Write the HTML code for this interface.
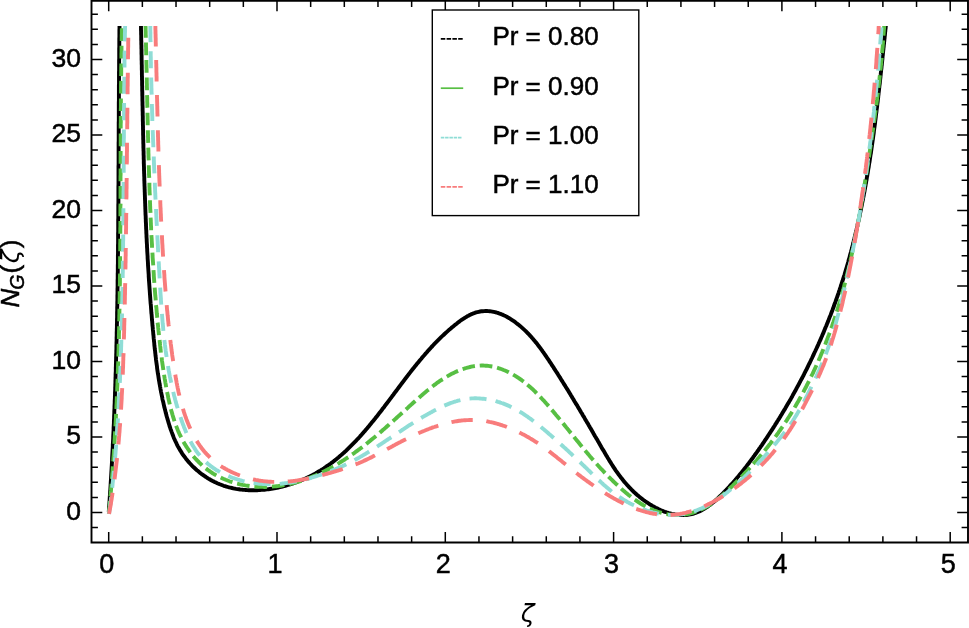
<!DOCTYPE html>
<html><head><meta charset="utf-8"><title>N_G plot</title>
<style>html,body{margin:0;padding:0;background:#fff;}body{width:969px;height:628px;overflow:hidden;position:relative;font-family:"Liberation Sans",sans-serif;}</style>
</head><body>
<svg width="969" height="628" viewBox="0 0 969 628" style="position:absolute;left:0;top:0">
<defs><clipPath id="cp"><rect x="91.5" y="26.0" width="876.5" height="516.5"/></clipPath></defs>
<g clip-path="url(#cp)" fill="none" stroke-linejoin="round">
<path d="M108.8,511.9 L108.9,510.2 L109.0,508.6 L109.1,506.9 L109.2,505.2 L109.4,503.5 L109.5,501.9 L109.6,500.2 L109.7,498.5 L109.8,496.8 L109.9,495.2 L110.0,493.5 L110.1,491.8 L110.3,490.1 L110.4,488.5 L110.5,486.8 L110.6,485.1 L110.7,483.4 L110.8,481.7 L110.9,480.1 L111.0,478.4 L111.1,476.7 L111.2,475.0 L111.3,473.4 L111.4,471.7 L111.5,470.0 L111.6,468.3 L111.7,466.7 L111.8,465.0 L111.9,463.3 L112.0,461.6 L112.1,460.0 L112.1,458.3 L112.2,456.6 L112.3,454.9 L112.4,453.2 L112.5,451.6 L112.6,449.9 L112.7,448.2 L112.8,446.5 L112.8,444.9 L112.9,443.2 L113.0,441.5 L113.1,439.8 L113.2,438.2 L113.2,436.5 L113.3,434.8 L113.4,433.1 L113.5,431.4 L113.6,429.8 L113.6,428.1 L113.7,426.4 L113.8,424.7 L113.9,423.1 L113.9,421.4 L114.0,419.7 L114.1,418.0 L114.1,416.3 L114.2,414.7 L114.3,413.0 L114.3,411.3 L114.4,409.6 L114.5,408.0 L114.5,406.3 L114.6,404.6 L114.7,402.9 L114.7,401.2 L114.8,399.6 L114.9,397.9 L114.9,396.2 L115.0,394.5 L115.0,392.9 L115.1,391.2 L115.2,389.5 L115.2,387.8 L115.3,386.1 L115.3,384.5 L115.4,382.8 L115.4,381.1 L115.5,379.4 L115.5,377.8 L115.6,376.1 L115.6,374.4 L115.7,372.7 L115.8,371.0 L115.8,369.4 L115.8,367.7 L115.9,366.0 L115.9,364.3 L116.0,362.7 L116.0,361.0 L116.1,359.3 L116.1,357.6 L116.2,355.9 L116.2,354.3 L116.3,352.6 L116.3,350.9 L116.4,349.2 L116.4,347.5 L116.4,345.9 L116.5,344.2 L116.5,342.5 L116.6,340.8 L116.6,339.2 L116.6,337.5 L116.7,335.8 L116.7,334.1 L116.7,332.4 L116.8,330.8 L116.8,329.1 L116.9,327.4 L116.9,325.7 L116.9,324.0 L117.0,322.4 L117.0,320.7 L117.0,319.0 L117.1,317.3 L117.1,315.6 L117.1,314.0 L117.1,312.3 L117.2,310.6 L117.2,308.9 L117.2,307.3 L117.3,305.6 L117.3,303.9 L117.3,302.2 L117.4,300.5 L117.4,298.9 L117.4,297.2 L117.4,295.5 L117.5,293.8 L117.5,292.1 L117.5,290.5 L117.5,288.8 L117.6,287.1 L117.6,285.4 L117.6,283.7 L117.6,282.1 L117.6,280.4 L117.7,278.7 L117.7,277.0 L117.7,275.3 L117.7,273.7 L117.8,272.0 L117.8,270.3 L117.8,268.6 L117.8,266.9 L117.8,265.3 L117.9,263.6 L117.9,261.9 L117.9,260.2 L117.9,258.6 L117.9,256.9 L117.9,255.2 L118.0,253.5 L118.0,251.8 L118.0,250.2 L118.0,248.5 L118.0,246.8 L118.0,245.1 L118.1,243.4 L118.1,241.8 L118.1,240.1 L118.1,238.4 L118.1,236.7 L118.1,235.0 L118.1,233.4 L118.2,231.7 L118.2,230.0 L118.2,228.3 L118.2,226.6 L118.2,225.0 L118.2,223.3 L118.2,221.6 L118.2,219.9 L118.3,218.2 L118.3,216.6 L118.3,214.9 L118.3,213.2 L118.3,211.5 L118.3,209.8 L118.3,208.2 L118.3,206.5 L118.3,204.8 L118.4,203.1 L118.4,201.4 L118.4,199.8 L118.4,198.1 L118.4,196.4 L118.4,194.7 L118.4,193.0 L118.4,191.4 L118.4,189.7 L118.4,188.0 L118.4,186.3 L118.5,184.6 L118.5,183.0 L118.5,181.3 L118.5,179.6 L118.5,177.9 L118.5,176.2 L118.5,174.6 L118.5,172.9 L118.5,171.2 L118.5,169.5 L118.5,167.9 L118.5,166.2 L118.6,164.5 L118.6,162.8 L118.6,161.1 L118.6,159.5 L118.6,157.8 L118.6,156.1 L118.6,154.4 L118.6,152.7 L118.6,151.1 L118.6,149.4 L118.6,147.7 L118.6,146.0 L118.6,144.3 L118.6,142.7 L118.7,141.0 L118.7,139.3 L118.7,137.6 L118.7,135.9 L118.7,134.3 L118.7,132.6 L118.7,130.9 L118.7,129.2 L118.7,127.5 L118.7,125.9 L118.7,124.2 L118.7,122.5 L118.8,120.8 L118.8,119.1 L118.8,117.5 L118.8,115.8 L118.8,114.1 L118.8,112.4 L118.8,110.7 L118.8,109.1 L118.8,107.4 L118.8,105.7 L118.8,104.0 L118.8,102.3 L118.9,100.7 L118.9,99.0 L118.9,97.3 L118.9,95.6 L118.9,94.0 L118.9,92.3 L118.9,90.6 L118.9,88.9 L118.9,87.2 L118.9,85.6 L119.0,83.9 L119.0,82.2 L119.0,80.5 L119.0,78.8 L119.0,77.2 L119.0,75.5 L119.0,73.8 L119.0,72.1 L119.1,70.4 L119.1,68.8 L119.1,67.1 L119.1,65.4 L119.1,63.7 L119.1,62.0 L119.1,60.4 L119.2,58.7 L119.2,57.0 L119.2,55.3 L119.2,53.7 L119.2,52.0 L119.2,50.3 L119.2,48.6 L119.3,46.9 L119.3,45.3 L119.3,43.6 L119.3,41.9 L119.3,40.2 L119.3,38.5 L119.4,36.9 L119.4,35.2 L119.4,33.5 L119.4,31.8 L119.4,30.1 L119.5,28.5 L119.5,26.8 L119.5,25.1 L119.5,23.4 L119.5,21.8 L119.6,20.1 L119.6,18.4 L119.6,16.7 L119.6,15.0 L119.7,13.4 L119.7,11.7 L119.7,10.0" stroke="#000000" stroke-width="3.9"/>
<path d="M141.0,26.0 L141.0,27.0 L141.0,28.4 L141.0,29.8 L141.1,31.3 L141.1,32.7 L141.1,34.1 L141.2,35.5 L141.2,36.9 L141.2,38.3 L141.2,39.8 L141.3,41.2 L141.3,42.6 L141.3,44.0 L141.4,45.4 L141.4,46.9 L141.4,48.3 L141.5,49.7 L141.5,51.1 L141.5,52.5 L141.5,53.9 L141.6,55.4 L141.6,56.8 L141.6,58.2 L141.6,59.6 L141.7,61.0 L141.7,62.4 L141.7,63.9 L141.8,65.3 L141.8,66.7 L141.8,68.1 L141.8,69.5 L141.9,70.9 L141.9,72.4 L141.9,73.8 L141.9,75.2 L142.0,76.6 L142.0,78.0 L142.0,79.5 L142.1,80.9 L142.1,82.3 L142.1,83.7 L142.1,85.1 L142.2,86.5 L142.2,88.0 L142.2,89.4 L142.2,90.8 L142.3,92.2 L142.3,93.6 L142.3,95.0 L142.4,96.5 L142.4,97.9 L142.4,99.3 L142.4,100.7 L142.5,102.1 L142.5,103.5 L142.5,105.0 L142.6,106.4 L142.6,107.8 L142.6,109.2 L142.6,110.6 L142.7,112.0 L142.7,113.5 L142.7,114.9 L142.8,116.3 L142.8,117.7 L142.8,119.1 L142.8,120.5 L142.9,122.0 L142.9,123.4 L142.9,124.8 L143.0,126.2 L143.0,127.6 L143.0,129.0 L143.1,130.5 L143.1,131.9 L143.1,133.3 L143.1,134.7 L143.2,136.1 L143.2,137.6 L143.2,139.0 L143.3,140.4 L143.3,141.8 L143.3,143.2 L143.4,144.6 L143.4,146.1 L143.4,147.5 L143.5,148.9 L143.5,150.3 L143.6,151.7 L143.6,153.1 L143.6,154.6 L143.7,156.0 L143.7,157.4 L143.7,158.8 L143.8,160.2 L143.8,161.6 L143.8,163.1 L143.9,164.5 L143.9,165.9 L144.0,167.3 L144.0,168.7 L144.0,170.1 L144.1,171.5 L144.1,173.0 L144.2,174.4 L144.2,175.8 L144.3,177.2 L144.3,178.6 L144.3,180.0 L144.4,181.5 L144.4,182.9 L144.5,184.3 L144.5,185.7 L144.6,187.1 L144.6,188.5 L144.7,190.0 L144.7,191.4 L144.8,192.8 L144.8,194.2 L144.9,195.6 L144.9,197.0 L145.0,198.5 L145.0,199.9 L145.1,201.3 L145.1,202.7 L145.2,204.1 L145.2,205.5 L145.3,207.0 L145.3,208.4 L145.4,209.8 L145.4,211.2 L145.5,212.6 L145.5,214.0 L145.6,215.4 L145.7,216.9 L145.7,218.3 L145.8,219.7 L145.8,221.1 L145.9,222.5 L146.0,223.9 L146.0,225.4 L146.1,226.8 L146.1,228.2 L146.2,229.6 L146.3,231.0 L146.3,232.4 L146.4,233.8 L146.5,235.3 L146.5,236.7 L146.6,238.1 L146.7,239.5 L146.7,240.9 L146.8,242.3 L146.9,243.8 L147.0,245.2 L147.0,246.6 L147.1,248.0 L147.2,249.4 L147.2,250.8 L147.3,252.2 L147.4,253.7 L147.5,255.1 L147.6,256.5 L147.6,257.9 L147.7,259.3 L147.8,260.7 L147.9,262.1 L148.0,263.6 L148.0,265.0 L148.1,266.4 L148.2,267.8 L148.3,269.2 L148.4,270.6 L148.5,272.1 L148.6,273.5 L148.7,274.9 L148.7,276.3 L148.8,277.7 L148.9,279.1 L149.0,280.5 L149.1,282.0 L149.2,283.4 L149.3,284.8 L149.4,286.2 L149.5,287.6 L149.6,289.0 L149.7,290.4 L149.8,291.9 L149.9,293.3 L150.0,294.7 L150.1,296.1 L150.2,297.5 L150.3,298.9 L150.4,300.3 L150.5,301.7 L150.6,303.2 L150.8,304.6 L150.9,306.0 L151.0,307.4 L151.1,308.8 L151.2,310.2 L151.3,311.6 L151.4,313.1 L151.6,314.5 L151.7,315.9 L151.8,317.3 L151.9,318.7 L152.0,320.1 L152.2,321.5 L152.3,323.0 L152.4,324.4 L152.5,325.8 L152.7,327.2 L152.8,328.6 L152.9,330.0 L153.1,331.4 L153.2,332.8 L153.3,334.3 L153.5,335.7 L153.6,337.1 L153.7,338.5 L153.9,339.9 L154.0,341.3 L154.2,342.7 L154.3,344.1 L154.4,345.6 L154.6,347.0 L154.7,348.4 L154.9,349.8 L155.1,351.2 L155.2,352.6 L155.4,354.0 L155.5,355.4 L155.7,356.8 L155.9,358.2 L156.0,359.7 L156.2,361.1 L156.4,362.5 L156.6,363.9 L156.8,365.3 L157.0,366.7 L157.1,368.1 L157.3,369.5 L157.5,370.9 L157.7,372.3 L157.9,373.7 L158.2,375.1 L158.4,376.5 L158.6,377.9 L158.8,379.3 L159.0,380.7 L159.3,382.1 L159.5,383.5 L159.8,384.9 L160.0,386.3 L160.3,387.7 L160.5,389.1 L160.8,390.5 L161.0,391.8 L161.3,393.2 L161.6,394.6 L161.9,396.0 L162.2,397.4 L162.4,398.8 L162.7,400.2 L163.1,401.5 L163.4,402.9 L163.7,404.3 L164.0,405.7 L164.3,407.1 L164.7,408.4 L165.0,409.8 L165.4,411.2 L165.7,412.6 L166.1,413.9 L166.4,415.3 L166.8,416.7 L167.2,418.0 L167.6,419.4 L168.0,420.8 L168.4,422.1 L168.8,423.5 L169.2,424.8 L169.6,426.2 L170.1,427.5 L170.5,428.9 L171.0,430.2 L171.5,431.6 L172.0,432.9 L172.5,434.2 L173.0,435.5 L173.5,436.9 L174.0,438.2 L174.6,439.5 L175.2,440.8 L175.8,442.0 L176.4,443.3 L177.0,444.6 L177.6,445.8 L178.3,447.1 L179.0,448.3 L179.7,449.5 L180.4,450.7 L181.2,451.9 L181.9,453.1 L182.7,454.3 L183.5,455.5 L184.4,456.6 L185.2,457.7 L186.1,458.9 L187.0,460.0 L187.9,461.1 L188.8,462.1 L189.8,463.2 L190.7,464.2 L191.7,465.3 L192.7,466.3 L193.7,467.3 L194.8,468.3 L195.8,469.2 L196.9,470.2 L198.0,471.1 L199.1,472.0 L200.2,472.9 L201.3,473.8 L202.5,474.6 L203.6,475.4 L204.8,476.3 L206.0,477.0 L207.2,477.8 L208.4,478.6 L209.6,479.3 L210.8,480.0 L212.1,480.7 L213.3,481.3 L214.6,482.0 L215.9,482.6 L217.2,483.2 L218.5,483.7 L219.8,484.3 L221.1,484.8 L222.4,485.3 L223.7,485.8 L225.1,486.2 L226.4,486.6 L227.8,487.0 L229.1,487.4 L230.5,487.7 L231.9,488.0 L233.2,488.3 L234.6,488.6 L236.0,488.9 L237.4,489.1 L238.8,489.3 L240.2,489.5 L241.6,489.6 L243.0,489.8 L244.4,489.9 L245.8,490.0 L247.2,490.1 L248.7,490.2 L250.1,490.2 L251.5,490.2 L252.9,490.2 L254.3,490.2 L255.8,490.2 L257.2,490.2 L258.6,490.1 L260.0,490.0 L261.4,489.9 L262.9,489.8 L264.3,489.7 L265.7,489.5 L267.1,489.4 L268.5,489.2 L269.9,489.0 L271.3,488.8 L272.8,488.5 L274.2,488.3 L275.6,488.0 L277.0,487.8 L278.4,487.5 L279.7,487.2 L281.1,486.8 L282.5,486.5 L283.9,486.2 L285.3,485.8 L286.7,485.4 L288.0,485.0 L289.4,484.6 L290.8,484.2 L292.1,483.7 L293.5,483.3 L294.8,482.8 L296.1,482.3 L297.5,481.8 L298.8,481.3 L300.1,480.8 L301.4,480.2 L302.8,479.7 L304.1,479.1 L305.4,478.5 L306.6,477.9 L307.9,477.3 L309.2,476.7 L310.5,476.1 L311.7,475.4 L313.0,474.8 L314.2,474.1 L315.5,473.4 L316.7,472.7 L317.9,472.0 L319.1,471.3 L320.3,470.6 L321.5,469.8 L322.7,469.1 L323.9,468.3 L325.0,467.5 L326.2,466.7 L327.3,465.9 L328.5,465.1 L329.6,464.3 L330.8,463.5 L331.9,462.6 L333.0,461.8 L334.1,460.9 L335.2,460.1 L336.3,459.2 L337.4,458.3 L338.5,457.4 L339.5,456.5 L340.6,455.6 L341.7,454.6 L342.7,453.7 L343.8,452.8 L344.8,451.8 L345.9,450.9 L346.9,449.9 L347.9,448.9 L348.9,447.9 L349.9,446.9 L350.9,445.9 L351.9,444.9 L352.9,443.9 L353.9,442.9 L354.9,441.9 L355.9,440.9 L356.9,439.8 L357.8,438.8 L358.8,437.8 L359.8,436.7 L360.7,435.6 L361.7,434.6 L362.6,433.5 L363.5,432.4 L364.5,431.4 L365.4,430.3 L366.3,429.2 L367.3,428.1 L368.2,427.0 L369.1,425.9 L370.0,424.8 L370.9,423.7 L371.8,422.6 L372.7,421.5 L373.6,420.4 L374.5,419.3 L375.4,418.2 L376.3,417.0 L377.2,415.9 L378.1,414.8 L378.9,413.7 L379.8,412.5 L380.7,411.4 L381.6,410.3 L382.4,409.1 L383.3,408.0 L384.2,406.9 L385.0,405.7 L385.9,404.6 L386.7,403.5 L387.6,402.3 L388.5,401.2 L389.3,400.1 L390.2,398.9 L391.0,397.8 L391.9,396.6 L392.7,395.5 L393.6,394.4 L394.4,393.2 L395.3,392.1 L396.1,391.0 L397.0,389.8 L397.8,388.7 L398.7,387.6 L399.5,386.4 L400.4,385.3 L401.2,384.2 L402.1,383.0 L402.9,381.9 L403.8,380.8 L404.6,379.7 L405.5,378.5 L406.3,377.4 L407.2,376.3 L408.0,375.2 L408.9,374.1 L409.8,372.9 L410.6,371.8 L411.5,370.7 L412.4,369.6 L413.2,368.5 L414.1,367.4 L415.0,366.3 L415.9,365.2 L416.8,364.1 L417.7,363.0 L418.6,361.9 L419.5,360.8 L420.4,359.7 L421.3,358.7 L422.2,357.6 L423.1,356.5 L424.0,355.5 L424.9,354.4 L425.8,353.3 L426.8,352.3 L427.7,351.2 L428.7,350.2 L429.6,349.1 L430.6,348.1 L431.5,347.0 L432.5,346.0 L433.4,345.0 L434.4,343.9 L435.4,342.9 L436.4,341.9 L437.4,340.9 L438.4,339.9 L439.4,338.9 L440.4,337.9 L441.4,336.9 L442.5,335.9 L443.5,335.0 L444.5,334.0 L445.6,333.0 L446.6,332.1 L447.7,331.1 L448.8,330.1 L449.9,329.2 L451.0,328.3 L452.1,327.3 L453.2,326.4 L454.3,325.5 L455.4,324.6 L456.6,323.7 L457.7,322.8 L458.9,321.9 L460.0,321.0 L461.2,320.2 L462.4,319.4 L463.6,318.6 L464.8,317.8 L466.0,317.1 L467.2,316.3 L468.4,315.7 L469.7,315.0 L470.9,314.4 L472.2,313.9 L473.5,313.3 L474.8,312.9 L476.1,312.4 L477.4,312.1 L478.7,311.8 L480.1,311.5 L481.4,311.3 L482.8,311.2 L484.1,311.1 L485.5,311.0 L486.9,311.0 L488.3,311.1 L489.6,311.2 L491.0,311.4 L492.3,311.6 L493.7,311.9 L495.0,312.2 L496.4,312.5 L497.7,312.9 L499.0,313.4 L500.3,313.8 L501.7,314.4 L503.0,314.9 L504.2,315.5 L505.5,316.1 L506.8,316.8 L508.0,317.5 L509.3,318.2 L510.5,319.0 L511.8,319.8 L513.0,320.6 L514.2,321.4 L515.4,322.3 L516.5,323.2 L517.7,324.1 L518.9,325.0 L520.0,325.9 L521.1,326.9 L522.2,327.9 L523.3,328.9 L524.4,329.9 L525.5,330.9 L526.5,331.9 L527.5,333.0 L528.6,334.0 L529.6,335.1 L530.5,336.2 L531.5,337.2 L532.4,338.3 L533.4,339.4 L534.3,340.5 L535.2,341.6 L536.1,342.6 L537.0,343.7 L537.8,344.8 L538.7,346.0 L539.5,347.1 L540.4,348.2 L541.2,349.3 L542.0,350.4 L542.8,351.6 L543.6,352.7 L544.4,353.8 L545.2,355.0 L546.0,356.1 L546.7,357.2 L547.5,358.4 L548.3,359.5 L549.1,360.7 L549.8,361.9 L550.6,363.0 L551.4,364.2 L552.1,365.4 L552.9,366.5 L553.7,367.7 L554.4,368.9 L555.2,370.1 L555.9,371.2 L556.7,372.4 L557.5,373.6 L558.2,374.8 L559.0,376.0 L559.7,377.2 L560.5,378.4 L561.2,379.6 L562.0,380.8 L562.7,382.0 L563.5,383.2 L564.2,384.4 L565.0,385.6 L565.7,386.8 L566.5,388.0 L567.2,389.2 L568.0,390.4 L568.7,391.7 L569.5,392.9 L570.2,394.1 L570.9,395.3 L571.7,396.5 L572.4,397.8 L573.2,399.0 L573.9,400.2 L574.6,401.4 L575.4,402.7 L576.1,403.9 L576.9,405.1 L577.6,406.3 L578.3,407.6 L579.1,408.8 L579.8,410.0 L580.5,411.3 L581.2,412.5 L582.0,413.7 L582.7,415.0 L583.4,416.2 L584.2,417.4 L584.9,418.7 L585.6,419.9 L586.3,421.1 L587.1,422.4 L587.8,423.6 L588.5,424.8 L589.2,426.1 L589.9,427.3 L590.7,428.5 L591.4,429.8 L592.1,431.0 L592.8,432.2 L593.5,433.5 L594.2,434.7 L594.9,435.9 L595.7,437.2 L596.4,438.4 L597.1,439.6 L597.8,440.8 L598.5,442.1 L599.2,443.3 L599.9,444.5 L600.6,445.7 L601.3,447.0 L602.0,448.2 L602.7,449.4 L603.5,450.6 L604.2,451.8 L604.9,453.0 L605.6,454.2 L606.3,455.4 L607.0,456.6 L607.7,457.8 L608.5,459.0 L609.2,460.2 L609.9,461.4 L610.7,462.6 L611.4,463.8 L612.2,465.0 L612.9,466.1 L613.7,467.3 L614.4,468.4 L615.2,469.6 L616.0,470.8 L616.8,471.9 L617.6,473.0 L618.4,474.2 L619.3,475.3 L620.1,476.4 L620.9,477.5 L621.8,478.6 L622.7,479.7 L623.5,480.8 L624.4,481.9 L625.4,483.0 L626.3,484.0 L627.2,485.1 L628.2,486.1 L629.1,487.2 L630.1,488.2 L631.1,489.2 L632.1,490.3 L633.2,491.3 L634.2,492.3 L635.3,493.2 L636.4,494.2 L637.5,495.2 L638.6,496.1 L639.7,497.1 L640.9,498.0 L642.1,498.9 L643.2,499.8 L644.4,500.7 L645.6,501.5 L646.9,502.4 L648.1,503.2 L649.3,504.0 L650.6,504.8 L651.9,505.5 L653.1,506.3 L654.4,507.0 L655.7,507.7 L657.0,508.3 L658.3,509.0 L659.6,509.6 L661.0,510.2 L662.3,510.7 L663.6,511.3 L665.0,511.8 L666.3,512.2 L667.6,512.7 L669.0,513.1 L670.3,513.4 L671.7,513.8 L673.0,514.1 L674.4,514.3 L675.7,514.6 L677.1,514.8 L678.4,514.9 L679.8,515.0 L681.1,515.1 L682.4,515.1 L683.8,515.1 L685.1,515.1 L686.4,515.0 L687.7,514.8 L689.0,514.6 L690.3,514.4 L691.6,514.1 L692.9,513.8 L694.2,513.4 L695.5,513.0 L696.7,512.5 L698.0,512.0 L699.2,511.5 L700.5,510.9 L701.7,510.2 L702.9,509.6 L704.1,508.9 L705.3,508.1 L706.5,507.4 L707.7,506.6 L708.8,505.7 L710.0,504.9 L711.2,504.0 L712.3,503.1 L713.4,502.2 L714.6,501.2 L715.7,500.2 L716.8,499.3 L717.9,498.3 L719.0,497.2 L720.0,496.2 L721.1,495.2 L722.2,494.1 L723.2,493.1 L724.3,492.0 L725.3,490.9 L726.3,489.9 L727.3,488.8 L728.4,487.7 L729.4,486.6 L730.3,485.5 L731.3,484.5 L732.3,483.4 L733.3,482.3 L734.2,481.2 L735.2,480.1 L736.1,479.0 L737.0,477.9 L738.0,476.8 L738.9,475.7 L739.8,474.6 L740.7,473.5 L741.6,472.4 L742.5,471.3 L743.4,470.2 L744.3,469.1 L745.1,468.0 L746.0,466.9 L746.9,465.7 L747.7,464.6 L748.6,463.5 L749.4,462.4 L750.3,461.2 L751.1,460.1 L751.9,459.0 L752.8,457.9 L753.6,456.7 L754.4,455.6 L755.2,454.4 L756.1,453.3 L756.9,452.2 L757.7,451.0 L758.5,449.9 L759.3,448.7 L760.1,447.6 L760.9,446.4 L761.7,445.3 L762.5,444.1 L763.3,442.9 L764.1,441.8 L764.8,440.6 L765.6,439.5 L766.4,438.3 L767.2,437.1 L768.0,435.9 L768.7,434.8 L769.5,433.6 L770.3,432.4 L771.1,431.2 L771.8,430.1 L772.6,428.9 L773.4,427.7 L774.1,426.5 L774.9,425.3 L775.6,424.1 L776.4,422.9 L777.1,421.7 L777.9,420.5 L778.6,419.3 L779.4,418.1 L780.1,416.9 L780.8,415.7 L781.6,414.5 L782.3,413.3 L783.0,412.1 L783.7,410.9 L784.5,409.7 L785.2,408.5 L785.9,407.2 L786.6,406.0 L787.3,404.8 L788.0,403.6 L788.8,402.4 L789.5,401.1 L790.2,399.9 L790.9,398.7 L791.6,397.4 L792.3,396.2 L792.9,395.0 L793.6,393.7 L794.3,392.5 L795.0,391.3 L795.7,390.0 L796.4,388.8 L797.0,387.5 L797.7,386.3 L798.4,385.0 L799.1,383.8 L799.7,382.5 L800.4,381.3 L801.0,380.0 L801.7,378.8 L802.4,377.5 L803.0,376.3 L803.7,375.0 L804.3,373.7 L804.9,372.5 L805.6,371.2 L806.2,369.9 L806.9,368.7 L807.5,367.4 L808.1,366.1 L808.7,364.8 L809.4,363.6 L810.0,362.3 L810.6,361.0 L811.2,359.7 L811.8,358.5 L812.4,357.2 L813.0,355.9 L813.6,354.6 L814.2,353.3 L814.8,352.0 L815.4,350.8 L816.0,349.5 L816.6,348.2 L817.2,346.9 L817.8,345.6 L818.4,344.3 L818.9,343.0 L819.5,341.7 L820.1,340.4 L820.7,339.1 L821.2,337.8 L821.8,336.5 L822.3,335.2 L822.9,333.9 L823.5,332.6 L824.0,331.3 L824.5,330.0 L825.1,328.6 L825.6,327.3 L826.2,326.0 L826.7,324.7 L827.2,323.4 L827.8,322.1 L828.3,320.8 L828.8,319.4 L829.3,318.1 L829.8,316.8 L830.4,315.5 L830.9,314.1 L831.4,312.8 L831.9,311.5 L832.4,310.2 L832.9,308.8 L833.4,307.5 L833.9,306.2 L834.3,304.8 L834.8,303.5 L835.3,302.2 L835.8,300.8 L836.3,299.5 L836.7,298.2 L837.2,296.8 L837.7,295.5 L838.1,294.2 L838.6,292.8 L839.0,291.5 L839.5,290.1 L839.9,288.8 L840.4,287.4 L840.8,286.1 L841.3,284.8 L841.7,283.4 L842.1,282.1 L842.6,280.7 L843.0,279.4 L843.4,278.0 L843.8,276.7 L844.3,275.3 L844.7,274.0 L845.1,272.6 L845.5,271.2 L845.9,269.9 L846.3,268.5 L846.7,267.2 L847.1,265.8 L847.5,264.5 L847.9,263.1 L848.3,261.7 L848.6,260.4 L849.0,259.0 L849.4,257.7 L849.8,256.3 L850.1,254.9 L850.5,253.6 L850.9,252.2 L851.2,250.8 L851.6,249.5 L852.0,248.1 L852.3,246.7 L852.7,245.3 L853.0,244.0 L853.4,242.6 L853.7,241.2 L854.0,239.9 L854.4,238.5 L854.7,237.1 L855.1,235.7 L855.4,234.4 L855.7,233.0 L856.0,231.6 L856.4,230.2 L856.7,228.8 L857.0,227.5 L857.3,226.1 L857.6,224.7 L857.9,223.3 L858.2,221.9 L858.6,220.6 L858.9,219.2 L859.2,217.8 L859.5,216.4 L859.8,215.0 L860.0,213.6 L860.3,212.3 L860.6,210.9 L860.9,209.5 L861.2,208.1 L861.5,206.7 L861.8,205.3 L862.0,203.9 L862.3,202.5 L862.6,201.1 L862.9,199.8 L863.1,198.4 L863.4,197.0 L863.7,195.6 L863.9,194.2 L864.2,192.8 L864.5,191.4 L864.7,190.0 L865.0,188.6 L865.2,187.2 L865.5,185.8 L865.7,184.4 L866.0,183.0 L866.2,181.6 L866.5,180.2 L866.7,178.8 L866.9,177.4 L867.2,176.0 L867.4,174.6 L867.7,173.2 L867.9,171.8 L868.1,170.4 L868.3,169.0 L868.6,167.6 L868.8,166.2 L869.0,164.8 L869.2,163.4 L869.5,162.0 L869.7,160.6 L869.9,159.2 L870.1,157.8 L870.3,156.4 L870.5,155.0 L870.8,153.6 L871.0,152.2 L871.2,150.8 L871.4,149.4 L871.6,148.0 L871.8,146.6 L872.0,145.2 L872.2,143.8 L872.4,142.4 L872.6,141.0 L872.8,139.6 L873.0,138.2 L873.2,136.7 L873.4,135.3 L873.6,133.9 L873.8,132.5 L873.9,131.1 L874.1,129.7 L874.3,128.3 L874.5,126.9 L874.7,125.5 L874.9,124.1 L875.1,122.7 L875.2,121.3 L875.4,119.9 L875.6,118.4 L875.8,117.0 L875.9,115.6 L876.1,114.2 L876.3,112.8 L876.5,111.4 L876.6,110.0 L876.8,108.6 L877.0,107.2 L877.2,105.8 L877.3,104.3 L877.5,102.9 L877.7,101.5 L877.8,100.1 L878.0,98.7 L878.2,97.3 L878.3,95.9 L878.5,94.5 L878.6,93.1 L878.8,91.7 L879.0,90.2 L879.1,88.8 L879.3,87.4 L879.4,86.0 L879.6,84.6 L879.8,83.2 L879.9,81.8 L880.1,80.4 L880.2,79.0 L880.4,77.6 L880.5,76.1 L880.7,74.7 L880.8,73.3 L881.0,71.9 L881.1,70.5 L881.3,69.1 L881.5,67.7 L881.6,66.3 L881.8,64.9 L881.9,63.5 L882.1,62.0 L882.2,60.6 L882.4,59.2 L882.5,57.8 L882.6,56.4 L882.8,55.0 L882.9,53.6 L883.1,52.2 L883.2,50.8 L883.4,49.4 L883.5,48.0 L883.7,46.6 L883.8,45.2 L884.0,43.8 L884.1,42.3 L884.3,40.9 L884.4,39.5 L884.6,38.1 L884.7,36.7 L884.9,35.3 L885.0,33.9 L885.1,32.5 L885.3,31.1 L885.4,29.7 L885.6,28.3 L885.7,26.9 L885.9,25.5 L886.0,24.1 L886.2,22.7 L886.3,21.3 L886.5,19.9 L886.6,18.5 L886.8,17.1 L886.9,15.7 L887.1,14.3 L887.2,12.9 L887.4,11.5 L887.5,10.1" stroke="#000000" stroke-width="3.9"/>
<path d="M109.0,511.9 L109.1,510.3 L109.3,508.6 L109.5,506.9 L109.6,505.2 L109.8,503.6 L109.9,501.9 L110.1,500.2 L110.2,498.6 L110.4,496.9 L110.5,495.2 L110.7,493.5 L110.8,491.9 L111.0,490.2 L111.1,488.5 L111.3,486.8 L111.4,485.2 L111.5,483.5 L111.7,481.8 L111.8,480.1 L111.9,478.5 L112.1,476.8 L112.2,475.1 L112.3,473.4 L112.5,471.8 L112.6,470.1 L112.7,468.4 L112.8,466.7 L112.9,465.1 L113.1,463.4 L113.2,461.7 L113.3,460.0 L113.4,458.4 L113.5,456.7 L113.7,455.0 L113.8,453.3 L113.9,451.7 L114.0,450.0 L114.1,448.3 L114.2,446.6 L114.3,445.0 L114.4,443.3 L114.5,441.6 L114.6,439.9 L114.7,438.3 L114.8,436.6 L114.9,434.9 L115.0,433.2 L115.1,431.5 L115.2,429.9 L115.3,428.2 L115.4,426.5 L115.5,424.8 L115.6,423.2 L115.7,421.5 L115.8,419.8 L115.9,418.1 L115.9,416.5 L116.0,414.8 L116.1,413.1 L116.2,411.4 L116.3,409.7 L116.4,408.1 L116.4,406.4 L116.5,404.7 L116.6,403.0 L116.7,401.4 L116.7,399.7 L116.8,398.0 L116.9,396.3 L117.0,394.6 L117.0,393.0 L117.1,391.3 L117.2,389.6 L117.2,387.9 L117.3,386.3 L117.4,384.6 L117.4,382.9 L117.5,381.2 L117.6,379.5 L117.6,377.9 L117.7,376.2 L117.8,374.5 L117.8,372.8 L117.9,371.2 L117.9,369.5 L118.0,367.8 L118.0,366.1 L118.1,364.4 L118.2,362.8 L118.2,361.1 L118.3,359.4 L118.3,357.7 L118.4,356.0 L118.4,354.4 L118.5,352.7 L118.5,351.0 L118.6,349.3 L118.6,347.7 L118.6,346.0 L118.7,344.3 L118.7,342.6 L118.8,340.9 L118.8,339.3 L118.9,337.6 L118.9,335.9 L118.9,334.2 L119.0,332.5 L119.0,330.9 L119.1,329.2 L119.1,327.5 L119.1,325.8 L119.2,324.1 L119.2,322.5 L119.2,320.8 L119.3,319.1 L119.3,317.4 L119.3,315.7 L119.4,314.1 L119.4,312.4 L119.4,310.7 L119.5,309.0 L119.5,307.3 L119.5,305.7 L119.6,304.0 L119.6,302.3 L119.6,300.6 L119.6,299.0 L119.7,297.3 L119.7,295.6 L119.7,293.9 L119.7,292.2 L119.8,290.6 L119.8,288.9 L119.8,287.2 L119.8,285.5 L119.9,283.8 L119.9,282.2 L119.9,280.5 L119.9,278.8 L119.9,277.1 L120.0,275.4 L120.0,273.8 L120.0,272.1 L120.0,270.4 L120.0,268.7 L120.1,267.0 L120.1,265.3 L120.1,263.7 L120.1,262.0 L120.1,260.3 L120.1,258.6 L120.1,256.9 L120.2,255.3 L120.2,253.6 L120.2,251.9 L120.2,250.2 L120.2,248.5 L120.2,246.9 L120.2,245.2 L120.2,243.5 L120.3,241.8 L120.3,240.1 L120.3,238.5 L120.3,236.8 L120.3,235.1 L120.3,233.4 L120.3,231.7 L120.3,230.1 L120.3,228.4 L120.4,226.7 L120.4,225.0 L120.4,223.3 L120.4,221.7 L120.4,220.0 L120.4,218.3 L120.4,216.6 L120.4,214.9 L120.4,213.3 L120.4,211.6 L120.4,209.9 L120.4,208.2 L120.4,206.5 L120.5,204.9 L120.5,203.2 L120.5,201.5 L120.5,199.8 L120.5,198.1 L120.5,196.5 L120.5,194.8 L120.5,193.1 L120.5,191.4 L120.5,189.7 L120.5,188.0 L120.5,186.4 L120.5,184.7 L120.5,183.0 L120.5,181.3 L120.5,179.6 L120.5,178.0 L120.5,176.3 L120.6,174.6 L120.6,172.9 L120.6,171.2 L120.6,169.6 L120.6,167.9 L120.6,166.2 L120.6,164.5 L120.6,162.8 L120.6,161.2 L120.6,159.5 L120.6,157.8 L120.6,156.1 L120.6,154.4 L120.6,152.8 L120.6,151.1 L120.6,149.4 L120.6,147.7 L120.7,146.0 L120.7,144.4 L120.7,142.7 L120.7,141.0 L120.7,139.3 L120.7,137.6 L120.7,136.0 L120.7,134.3 L120.7,132.6 L120.7,130.9 L120.7,129.2 L120.7,127.6 L120.7,125.9 L120.7,124.2 L120.8,122.5 L120.8,120.8 L120.8,119.2 L120.8,117.5 L120.8,115.8 L120.8,114.1 L120.8,112.4 L120.8,110.8 L120.8,109.1 L120.9,107.4 L120.9,105.7 L120.9,104.0 L120.9,102.4 L120.9,100.7 L120.9,99.0 L120.9,97.3 L120.9,95.6 L121.0,94.0 L121.0,92.3 L121.0,90.6 L121.0,88.9 L121.0,87.2 L121.0,85.6 L121.0,83.9 L121.1,82.2 L121.1,80.5 L121.1,78.8 L121.1,77.2 L121.1,75.5 L121.2,73.8 L121.2,72.1 L121.2,70.4 L121.2,68.8 L121.2,67.1 L121.3,65.4 L121.3,63.7 L121.3,62.0 L121.3,60.4 L121.4,58.7 L121.4,57.0 L121.4,55.3 L121.4,53.7 L121.5,52.0 L121.5,50.3 L121.5,48.6 L121.5,46.9 L121.6,45.3 L121.6,43.6 L121.6,41.9 L121.7,40.2 L121.7,38.5 L121.7,36.9 L121.7,35.2 L121.8,33.5 L121.8,31.8 L121.8,30.2 L121.9,28.5 L121.9,26.8 L122.0,25.1 L122.0,23.4 L122.0,21.8 L122.1,20.1 L122.1,18.4 L122.1,16.7 L122.2,15.0 L122.2,13.4 L122.3,11.7 L122.3,10.0" stroke="#57BF43" stroke-width="3.9" stroke-dasharray="8.765 8.765" stroke-linecap="square"/>
<path d="M145.5,26.0 L145.5,26.2 L145.6,27.5 L145.6,28.9 L145.6,30.2 L145.7,31.6 L145.7,32.9 L145.7,34.3 L145.8,35.6 L145.8,37.0 L145.8,38.3 L145.9,39.6 L145.9,41.0 L145.9,42.3 L146.0,43.7 L146.0,45.0 L146.0,46.4 L146.1,47.7 L146.1,49.1 L146.1,50.4 L146.2,51.8 L146.2,53.1 L146.2,54.5 L146.3,55.8 L146.3,57.2 L146.3,58.5 L146.3,59.9 L146.4,61.2 L146.4,62.6 L146.4,63.9 L146.5,65.3 L146.5,66.6 L146.5,68.0 L146.6,69.3 L146.6,70.7 L146.6,72.0 L146.6,73.4 L146.7,74.7 L146.7,76.1 L146.7,77.4 L146.8,78.8 L146.8,80.1 L146.8,81.4 L146.8,82.8 L146.9,84.1 L146.9,85.5 L146.9,86.8 L147.0,88.2 L147.0,89.5 L147.0,90.9 L147.0,92.2 L147.1,93.6 L147.1,94.9 L147.1,96.3 L147.2,97.6 L147.2,99.0 L147.2,100.3 L147.2,101.7 L147.3,103.0 L147.3,104.4 L147.3,105.7 L147.4,107.1 L147.4,108.4 L147.4,109.8 L147.4,111.1 L147.5,112.5 L147.5,113.8 L147.5,115.2 L147.6,116.5 L147.6,117.9 L147.6,119.2 L147.7,120.6 L147.7,121.9 L147.7,123.3 L147.7,124.6 L147.8,126.0 L147.8,127.3 L147.8,128.7 L147.9,130.0 L147.9,131.4 L147.9,132.7 L148.0,134.1 L148.0,135.4 L148.0,136.8 L148.1,138.1 L148.1,139.5 L148.1,140.8 L148.2,142.2 L148.2,143.5 L148.2,144.9 L148.3,146.2 L148.3,147.6 L148.3,148.9 L148.4,150.3 L148.4,151.6 L148.4,153.0 L148.5,154.3 L148.5,155.7 L148.5,157.0 L148.6,158.4 L148.6,159.7 L148.7,161.1 L148.7,162.4 L148.7,163.8 L148.8,165.1 L148.8,166.5 L148.8,167.8 L148.9,169.2 L148.9,170.5 L149.0,171.9 L149.0,173.2 L149.0,174.6 L149.1,175.9 L149.1,177.3 L149.2,178.6 L149.2,180.0 L149.3,181.3 L149.3,182.7 L149.4,184.0 L149.4,185.4 L149.4,186.7 L149.5,188.1 L149.5,189.4 L149.6,190.8 L149.6,192.1 L149.7,193.5 L149.7,194.8 L149.8,196.2 L149.8,197.5 L149.9,198.9 L149.9,200.2 L150.0,201.5 L150.0,202.9 L150.1,204.2 L150.1,205.6 L150.2,206.9 L150.2,208.3 L150.3,209.6 L150.4,211.0 L150.4,212.3 L150.5,213.7 L150.5,215.0 L150.6,216.4 L150.6,217.7 L150.7,219.1 L150.8,220.4 L150.8,221.8 L150.9,223.1 L150.9,224.5 L151.0,225.8 L151.1,227.2 L151.1,228.5 L151.2,229.9 L151.3,231.2 L151.3,232.6 L151.4,233.9 L151.5,235.3 L151.5,236.6 L151.6,237.9 L151.7,239.3 L151.7,240.6 L151.8,242.0 L151.9,243.3 L152.0,244.7 L152.0,246.0 L152.1,247.4 L152.2,248.7 L152.2,250.1 L152.3,251.4 L152.4,252.8 L152.5,254.1 L152.6,255.5 L152.6,256.8 L152.7,258.1 L152.8,259.5 L152.9,260.8 L153.0,262.2 L153.1,263.5 L153.1,264.9 L153.2,266.2 L153.3,267.6 L153.4,268.9 L153.5,270.3 L153.6,271.6 L153.7,273.0 L153.8,274.3 L153.8,275.6 L153.9,277.0 L154.0,278.3 L154.1,279.7 L154.2,281.0 L154.3,282.4 L154.4,283.7 L154.5,285.1 L154.6,286.4 L154.7,287.7 L154.8,289.1 L154.9,290.4 L155.0,291.8 L155.1,293.1 L155.2,294.5 L155.3,295.8 L155.5,297.2 L155.6,298.5 L155.7,299.8 L155.8,301.2 L155.9,302.5 L156.0,303.9 L156.1,305.2 L156.2,306.6 L156.4,307.9 L156.5,309.2 L156.6,310.6 L156.7,311.9 L156.8,313.3 L157.0,314.6 L157.1,316.0 L157.2,317.3 L157.3,318.6 L157.5,320.0 L157.6,321.3 L157.7,322.7 L157.8,324.0 L158.0,325.3 L158.1,326.7 L158.2,328.0 L158.4,329.4 L158.5,330.7 L158.7,332.1 L158.8,333.4 L158.9,334.7 L159.1,336.1 L159.2,337.4 L159.4,338.8 L159.5,340.1 L159.7,341.4 L159.8,342.8 L160.0,344.1 L160.1,345.5 L160.3,346.8 L160.4,348.1 L160.6,349.5 L160.7,350.8 L160.9,352.1 L161.1,353.5 L161.2,354.8 L161.4,356.2 L161.6,357.5 L161.8,358.8 L161.9,360.2 L162.1,361.5 L162.3,362.8 L162.5,364.2 L162.7,365.5 L162.9,366.8 L163.1,368.2 L163.3,369.5 L163.5,370.9 L163.7,372.2 L163.9,373.5 L164.1,374.9 L164.3,376.2 L164.5,377.5 L164.7,378.8 L165.0,380.2 L165.2,381.5 L165.4,382.8 L165.7,384.2 L165.9,385.5 L166.1,386.8 L166.4,388.2 L166.6,389.5 L166.9,390.8 L167.2,392.1 L167.4,393.5 L167.7,394.8 L168.0,396.1 L168.2,397.4 L168.5,398.8 L168.8,400.1 L169.1,401.4 L169.4,402.7 L169.7,404.1 L170.0,405.4 L170.3,406.7 L170.7,408.0 L171.0,409.3 L171.3,410.6 L171.7,411.9 L172.1,413.2 L172.4,414.5 L172.8,415.8 L173.2,417.1 L173.6,418.4 L174.0,419.7 L174.4,421.0 L174.8,422.3 L175.3,423.6 L175.7,424.8 L176.2,426.1 L176.7,427.4 L177.2,428.6 L177.7,429.9 L178.2,431.1 L178.8,432.4 L179.3,433.6 L179.9,434.8 L180.5,436.0 L181.1,437.3 L181.7,438.5 L182.3,439.7 L183.0,440.9 L183.6,442.0 L184.3,443.2 L185.0,444.4 L185.7,445.5 L186.4,446.7 L187.2,447.8 L187.9,448.9 L188.7,450.0 L189.4,451.1 L190.2,452.2 L191.1,453.3 L191.9,454.4 L192.7,455.4 L193.6,456.4 L194.4,457.5 L195.3,458.5 L196.2,459.5 L197.1,460.4 L198.1,461.4 L199.0,462.4 L200.0,463.3 L200.9,464.2 L201.9,465.1 L202.9,466.0 L203.9,466.9 L205.0,467.7 L206.0,468.6 L207.1,469.4 L208.1,470.2 L209.2,470.9 L210.3,471.7 L211.4,472.4 L212.5,473.2 L213.7,473.9 L214.8,474.5 L216.0,475.2 L217.2,475.8 L218.4,476.5 L219.6,477.1 L220.8,477.7 L222.0,478.2 L223.2,478.8 L224.5,479.3 L225.7,479.8 L227.0,480.3 L228.2,480.8 L229.5,481.3 L230.8,481.7 L232.1,482.1 L233.4,482.5 L234.7,482.9 L236.0,483.3 L237.3,483.6 L238.6,484.0 L240.0,484.3 L241.3,484.6 L242.6,484.9 L244.0,485.1 L245.3,485.4 L246.7,485.6 L248.0,485.8 L249.4,486.0 L250.7,486.2 L252.1,486.3 L253.4,486.5 L254.8,486.6 L256.1,486.7 L257.5,486.8 L258.9,486.8 L260.2,486.9 L261.6,486.9 L263.0,486.9 L264.3,487.0 L265.7,486.9 L267.0,486.9 L268.4,486.9 L269.7,486.8 L271.1,486.7 L272.4,486.6 L273.8,486.5 L275.1,486.4 L276.4,486.2 L277.8,486.1 L279.1,485.9 L280.4,485.7 L281.8,485.5 L283.1,485.3 L284.4,485.0 L285.7,484.8 L287.0,484.5 L288.4,484.3 L289.7,484.0 L291.0,483.7 L292.3,483.3 L293.6,483.0 L294.9,482.7 L296.2,482.3 L297.5,481.9 L298.7,481.6 L300.0,481.2 L301.3,480.8 L302.6,480.3 L303.9,479.9 L305.1,479.5 L306.4,479.0 L307.7,478.5 L308.9,478.1 L310.2,477.6 L311.4,477.1 L312.7,476.6 L313.9,476.0 L315.2,475.5 L316.4,475.0 L317.7,474.4 L318.9,473.9 L320.1,473.3 L321.3,472.7 L322.6,472.1 L323.8,471.5 L325.0,470.9 L326.2,470.3 L327.4,469.7 L328.6,469.0 L329.8,468.4 L331.0,467.7 L332.2,467.1 L333.3,466.4 L334.5,465.7 L335.7,465.0 L336.9,464.4 L338.0,463.7 L339.2,463.0 L340.3,462.2 L341.5,461.5 L342.6,460.8 L343.8,460.1 L344.9,459.3 L346.0,458.6 L347.2,457.9 L348.3,457.1 L349.4,456.3 L350.5,455.6 L351.6,454.8 L352.7,454.0 L353.8,453.3 L354.9,452.5 L356.0,451.7 L357.1,450.9 L358.2,450.1 L359.2,449.3 L360.3,448.5 L361.4,447.7 L362.4,446.9 L363.5,446.1 L364.6,445.2 L365.6,444.4 L366.7,443.6 L367.7,442.7 L368.7,441.9 L369.8,441.1 L370.8,440.2 L371.9,439.4 L372.9,438.5 L373.9,437.7 L375.0,436.8 L376.0,436.0 L377.0,435.1 L378.0,434.2 L379.0,433.4 L380.1,432.5 L381.1,431.6 L382.1,430.7 L383.1,429.8 L384.1,429.0 L385.1,428.1 L386.1,427.2 L387.1,426.3 L388.1,425.4 L389.1,424.5 L390.1,423.6 L391.1,422.7 L392.2,421.8 L393.2,420.9 L394.2,420.0 L395.2,419.1 L396.2,418.2 L397.2,417.3 L398.2,416.4 L399.2,415.5 L400.2,414.6 L401.2,413.7 L402.2,412.8 L403.2,411.9 L404.2,411.0 L405.2,410.1 L406.2,409.2 L407.2,408.3 L408.2,407.4 L409.2,406.4 L410.2,405.5 L411.2,404.6 L412.2,403.7 L413.2,402.8 L414.2,401.9 L415.3,401.0 L416.3,400.1 L417.3,399.2 L418.3,398.3 L419.3,397.4 L420.4,396.5 L421.4,395.6 L422.4,394.7 L423.5,393.8 L424.5,392.9 L425.6,392.0 L426.6,391.1 L427.7,390.3 L428.7,389.4 L429.8,388.5 L430.8,387.7 L431.9,386.8 L433.0,386.0 L434.1,385.2 L435.2,384.4 L436.3,383.5 L437.4,382.7 L438.5,382.0 L439.6,381.2 L440.7,380.4 L441.9,379.7 L443.0,378.9 L444.1,378.2 L445.3,377.5 L446.5,376.8 L447.6,376.1 L448.8,375.4 L450.0,374.8 L451.2,374.1 L452.4,373.5 L453.6,372.9 L454.9,372.3 L456.1,371.7 L457.3,371.2 L458.6,370.7 L459.8,370.2 L461.1,369.7 L462.3,369.2 L463.6,368.8 L464.9,368.4 L466.2,368.0 L467.5,367.6 L468.7,367.3 L470.0,367.0 L471.3,366.7 L472.6,366.4 L473.9,366.2 L475.2,366.0 L476.5,365.9 L477.8,365.7 L479.1,365.6 L480.4,365.6 L481.8,365.5 L483.1,365.5 L484.4,365.6 L485.7,365.7 L487.0,365.8 L488.3,365.9 L489.6,366.1 L490.9,366.3 L492.2,366.5 L493.5,366.8 L494.8,367.1 L496.0,367.4 L497.3,367.8 L498.6,368.2 L499.9,368.6 L501.1,369.0 L502.4,369.5 L503.6,370.0 L504.9,370.5 L506.1,371.0 L507.3,371.6 L508.6,372.2 L509.8,372.8 L511.0,373.4 L512.2,374.1 L513.3,374.7 L514.5,375.4 L515.7,376.1 L516.8,376.8 L518.0,377.6 L519.1,378.3 L520.2,379.1 L521.3,379.9 L522.4,380.7 L523.5,381.5 L524.5,382.3 L525.6,383.2 L526.7,384.0 L527.7,384.9 L528.7,385.8 L529.8,386.7 L530.8,387.6 L531.8,388.5 L532.8,389.4 L533.8,390.4 L534.8,391.3 L535.7,392.3 L536.7,393.3 L537.7,394.2 L538.6,395.2 L539.6,396.2 L540.5,397.2 L541.5,398.2 L542.4,399.2 L543.3,400.2 L544.3,401.2 L545.2,402.2 L546.1,403.3 L547.0,404.3 L547.9,405.3 L548.8,406.4 L549.7,407.4 L550.6,408.4 L551.5,409.5 L552.3,410.5 L553.2,411.5 L554.1,412.6 L555.0,413.6 L555.8,414.7 L556.7,415.7 L557.6,416.7 L558.4,417.8 L559.3,418.8 L560.2,419.9 L561.0,420.9 L561.9,422.0 L562.7,423.0 L563.6,424.1 L564.4,425.1 L565.3,426.1 L566.1,427.2 L567.0,428.2 L567.8,429.3 L568.7,430.3 L569.5,431.4 L570.4,432.4 L571.2,433.5 L572.0,434.5 L572.9,435.5 L573.7,436.6 L574.6,437.6 L575.4,438.7 L576.3,439.7 L577.1,440.7 L578.0,441.8 L578.8,442.8 L579.6,443.8 L580.5,444.9 L581.3,445.9 L582.2,446.9 L583.0,448.0 L583.9,449.0 L584.7,450.0 L585.6,451.1 L586.5,452.1 L587.3,453.1 L588.2,454.1 L589.0,455.1 L589.9,456.2 L590.8,457.2 L591.6,458.2 L592.5,459.2 L593.4,460.2 L594.3,461.2 L595.2,462.2 L596.0,463.2 L596.9,464.2 L597.8,465.2 L598.7,466.2 L599.6,467.2 L600.5,468.2 L601.4,469.2 L602.4,470.2 L603.3,471.1 L604.2,472.1 L605.1,473.1 L606.1,474.1 L607.0,475.0 L607.9,476.0 L608.9,477.0 L609.8,477.9 L610.8,478.9 L611.8,479.8 L612.7,480.8 L613.7,481.7 L614.7,482.6 L615.7,483.6 L616.7,484.5 L617.7,485.4 L618.7,486.4 L619.7,487.3 L620.7,488.2 L621.7,489.1 L622.7,490.0 L623.8,490.9 L624.8,491.8 L625.9,492.7 L626.9,493.6 L628.0,494.5 L629.1,495.3 L630.2,496.2 L631.3,497.0 L632.4,497.8 L633.5,498.7 L634.6,499.5 L635.7,500.3 L636.8,501.0 L638.0,501.8 L639.1,502.5 L640.3,503.3 L641.4,504.0 L642.6,504.7 L643.8,505.4 L645.0,506.0 L646.2,506.7 L647.4,507.3 L648.6,507.9 L649.8,508.5 L651.0,509.1 L652.3,509.6 L653.5,510.2 L654.8,510.7 L656.0,511.1 L657.3,511.6 L658.6,512.0 L659.9,512.4 L661.2,512.8 L662.5,513.1 L663.8,513.5 L665.1,513.7 L666.4,514.0 L667.7,514.3 L669.0,514.5 L670.4,514.6 L671.7,514.8 L673.0,514.9 L674.3,515.0 L675.6,515.0 L677.0,515.1 L678.3,515.1 L679.6,515.0 L680.9,514.9 L682.2,514.8 L683.5,514.7 L684.8,514.5 L686.1,514.3 L687.4,514.0 L688.7,513.8 L689.9,513.5 L691.2,513.1 L692.5,512.8 L693.7,512.4 L695.0,512.0 L696.2,511.5 L697.5,511.0 L698.7,510.5 L699.9,510.0 L701.2,509.5 L702.4,508.9 L703.6,508.3 L704.7,507.7 L705.9,507.0 L707.1,506.4 L708.3,505.7 L709.4,505.0 L710.5,504.2 L711.7,503.5 L712.8,502.7 L713.9,502.0 L715.0,501.2 L716.1,500.3 L717.2,499.5 L718.2,498.7 L719.3,497.8 L720.4,496.9 L721.4,496.1 L722.4,495.2 L723.5,494.3 L724.5,493.3 L725.5,492.4 L726.5,491.5 L727.5,490.6 L728.5,489.6 L729.5,488.7 L730.5,487.7 L731.5,486.8 L732.5,485.8 L733.5,484.8 L734.5,483.9 L735.4,482.9 L736.4,481.9 L737.4,481.0 L738.3,480.0 L739.3,479.0 L740.2,478.1 L741.2,477.1 L742.1,476.1 L743.1,475.1 L744.0,474.1 L744.9,473.2 L745.9,472.2 L746.8,471.2 L747.7,470.2 L748.6,469.2 L749.5,468.2 L750.4,467.2 L751.3,466.2 L752.2,465.2 L753.1,464.2 L754.0,463.2 L754.9,462.2 L755.8,461.2 L756.7,460.2 L757.6,459.1 L758.5,458.1 L759.3,457.1 L760.2,456.1 L761.0,455.1 L761.9,454.0 L762.8,453.0 L763.6,452.0 L764.5,450.9 L765.3,449.9 L766.1,448.8 L767.0,447.8 L767.8,446.7 L768.6,445.7 L769.5,444.6 L770.3,443.6 L771.1,442.5 L771.9,441.5 L772.7,440.4 L773.5,439.3 L774.3,438.2 L775.1,437.2 L775.9,436.1 L776.7,435.0 L777.5,433.9 L778.3,432.8 L779.0,431.7 L779.8,430.6 L780.6,429.5 L781.3,428.4 L782.1,427.3 L782.8,426.2 L783.6,425.1 L784.3,424.0 L785.1,422.8 L785.8,421.7 L786.6,420.6 L787.3,419.4 L788.0,418.3 L788.7,417.2 L789.5,416.0 L790.2,414.9 L790.9,413.7 L791.6,412.6 L792.3,411.4 L793.0,410.3 L793.7,409.1 L794.4,408.0 L795.1,406.8 L795.8,405.6 L796.4,404.5 L797.1,403.3 L797.8,402.1 L798.5,400.9 L799.1,399.8 L799.8,398.6 L800.4,397.4 L801.1,396.2 L801.8,395.0 L802.4,393.8 L803.0,392.6 L803.7,391.4 L804.3,390.2 L804.9,389.0 L805.6,387.8 L806.2,386.6 L806.8,385.4 L807.4,384.2 L808.0,383.0 L808.6,381.8 L809.2,380.6 L809.8,379.4 L810.4,378.2 L811.0,376.9 L811.6,375.7 L812.2,374.5 L812.8,373.3 L813.4,372.1 L813.9,370.8 L814.5,369.6 L815.1,368.4 L815.6,367.2 L816.2,365.9 L816.7,364.7 L817.3,363.5 L817.8,362.2 L818.4,361.0 L818.9,359.8 L819.4,358.5 L820.0,357.3 L820.5,356.0 L821.0,354.8 L821.5,353.6 L822.1,352.3 L822.6,351.1 L823.1,349.8 L823.6,348.6 L824.1,347.3 L824.6,346.1 L825.1,344.8 L825.6,343.6 L826.1,342.3 L826.5,341.0 L827.0,339.8 L827.5,338.5 L828.0,337.3 L828.4,336.0 L828.9,334.8 L829.4,333.5 L829.8,332.2 L830.3,331.0 L830.7,329.7 L831.2,328.4 L831.6,327.2 L832.1,325.9 L832.5,324.6 L833.0,323.3 L833.4,322.1 L833.8,320.8 L834.2,319.5 L834.7,318.2 L835.1,317.0 L835.5,315.7 L835.9,314.4 L836.3,313.1 L836.7,311.8 L837.1,310.6 L837.5,309.3 L837.9,308.0 L838.3,306.7 L838.7,305.4 L839.1,304.1 L839.5,302.8 L839.9,301.5 L840.2,300.2 L840.6,299.0 L841.0,297.7 L841.4,296.4 L841.7,295.1 L842.1,293.8 L842.4,292.5 L842.8,291.2 L843.2,289.9 L843.5,288.6 L843.9,287.3 L844.2,286.0 L844.5,284.7 L844.9,283.4 L845.2,282.1 L845.6,280.8 L845.9,279.4 L846.2,278.1 L846.5,276.8 L846.9,275.5 L847.2,274.2 L847.5,272.9 L847.8,271.6 L848.1,270.3 L848.5,269.0 L848.8,267.7 L849.1,266.3 L849.4,265.0 L849.7,263.7 L850.0,262.4 L850.3,261.1 L850.6,259.8 L850.9,258.4 L851.2,257.1 L851.4,255.8 L851.7,254.5 L852.0,253.2 L852.3,251.8 L852.6,250.5 L852.9,249.2 L853.1,247.9 L853.4,246.5 L853.7,245.2 L854.0,243.9 L854.2,242.6 L854.5,241.3 L854.8,239.9 L855.0,238.6 L855.3,237.3 L855.5,235.9 L855.8,234.6 L856.1,233.3 L856.3,232.0 L856.6,230.6 L856.8,229.3 L857.1,228.0 L857.3,226.6 L857.6,225.3 L857.8,224.0 L858.1,222.7 L858.3,221.3 L858.5,220.0 L858.8,218.7 L859.0,217.3 L859.3,216.0 L859.5,214.7 L859.7,213.3 L860.0,212.0 L860.2,210.7 L860.4,209.3 L860.7,208.0 L860.9,206.7 L861.1,205.3 L861.3,204.0 L861.6,202.7 L861.8,201.3 L862.0,200.0 L862.2,198.7 L862.5,197.3 L862.7,196.0 L862.9,194.7 L863.1,193.3 L863.4,192.0 L863.6,190.7 L863.8,189.3 L864.0,188.0 L864.2,186.7 L864.4,185.3 L864.7,184.0 L864.9,182.7 L865.1,181.3 L865.3,180.0 L865.5,178.7 L865.7,177.3 L865.9,176.0 L866.2,174.7 L866.4,173.3 L866.6,172.0 L866.8,170.7 L867.0,169.3 L867.2,168.0 L867.4,166.7 L867.6,165.3 L867.8,164.0 L868.0,162.7 L868.2,161.3 L868.4,160.0 L868.7,158.7 L868.9,157.3 L869.1,156.0 L869.3,154.7 L869.5,153.3 L869.7,152.0 L869.9,150.7 L870.1,149.3 L870.3,148.0 L870.5,146.7 L870.7,145.3 L870.9,144.0 L871.1,142.7 L871.3,141.3 L871.5,140.0 L871.7,138.7 L871.9,137.3 L872.1,136.0 L872.2,134.7 L872.4,133.3 L872.6,132.0 L872.8,130.7 L873.0,129.3 L873.2,128.0 L873.4,126.7 L873.6,125.3 L873.8,124.0 L874.0,122.7 L874.1,121.3 L874.3,120.0 L874.5,118.7 L874.7,117.3 L874.9,116.0 L875.0,114.7 L875.2,113.3 L875.4,112.0 L875.6,110.7 L875.8,109.3 L875.9,108.0 L876.1,106.7 L876.3,105.3 L876.5,104.0 L876.6,102.7 L876.8,101.3 L877.0,100.0 L877.1,98.7 L877.3,97.3 L877.5,96.0 L877.6,94.7 L877.8,93.3 L877.9,92.0 L878.1,90.7 L878.3,89.3 L878.4,88.0 L878.6,86.6 L878.7,85.3 L878.9,84.0 L879.0,82.6 L879.2,81.3 L879.4,80.0 L879.5,78.6 L879.6,77.3 L879.8,75.9 L879.9,74.6 L880.1,73.3 L880.2,71.9 L880.4,70.6 L880.5,69.2 L880.7,67.9 L880.8,66.6 L880.9,65.2 L881.1,63.9 L881.2,62.5 L881.3,61.2 L881.5,59.9 L881.6,58.5 L881.7,57.2 L881.8,55.8 L882.0,54.5 L882.1,53.1 L882.2,51.8 L882.3,50.4 L882.4,49.1 L882.6,47.8 L882.7,46.4 L882.8,45.1 L882.9,43.7 L883.0,42.4 L883.1,41.0 L883.2,39.7 L883.3,38.3 L883.4,37.0 L883.5,35.6 L883.6,34.3 L883.7,32.9 L883.8,31.6 L883.9,30.2 L884.0,28.9 L884.1,27.5 L884.2,26.2 L884.3,24.8 L884.4,23.5 L884.5,22.1 L884.5,20.8 L884.6,19.4 L884.7,18.1 L884.8,16.7 L884.9,15.4 L884.9,14.0 L885.0,12.6 L885.1,11.3 L885.1,9.9" stroke="#57BF43" stroke-width="3.9" stroke-dasharray="8.765 8.765" stroke-linecap="square" stroke-dashoffset="-1"/>
<path d="M109.3,512.0 L109.5,510.3 L109.7,508.7 L110.0,507.0 L110.2,505.3 L110.4,503.7 L110.6,502.0 L110.8,500.3 L111.0,498.6 L111.2,497.0 L111.3,495.3 L111.5,493.6 L111.7,492.0 L111.9,490.3 L112.1,488.6 L112.3,487.0 L112.5,485.3 L112.6,483.6 L112.8,481.9 L113.0,480.3 L113.1,478.6 L113.3,476.9 L113.5,475.3 L113.6,473.6 L113.8,471.9 L114.0,470.2 L114.1,468.6 L114.3,466.9 L114.4,465.2 L114.6,463.5 L114.7,461.9 L114.9,460.2 L115.0,458.5 L115.2,456.9 L115.3,455.2 L115.5,453.5 L115.6,451.8 L115.7,450.2 L115.9,448.5 L116.0,446.8 L116.1,445.1 L116.3,443.5 L116.4,441.8 L116.5,440.1 L116.6,438.4 L116.7,436.8 L116.9,435.1 L117.0,433.4 L117.1,431.7 L117.2,430.1 L117.3,428.4 L117.4,426.7 L117.5,425.0 L117.7,423.4 L117.8,421.7 L117.9,420.0 L118.0,418.3 L118.1,416.7 L118.2,415.0 L118.3,413.3 L118.4,411.6 L118.5,409.9 L118.6,408.3 L118.7,406.6 L118.7,404.9 L118.8,403.2 L118.9,401.6 L119.0,399.9 L119.1,398.2 L119.2,396.5 L119.3,394.9 L119.3,393.2 L119.4,391.5 L119.5,389.8 L119.6,388.1 L119.7,386.5 L119.7,384.8 L119.8,383.1 L119.9,381.4 L120.0,379.7 L120.0,378.1 L120.1,376.4 L120.2,374.7 L120.2,373.0 L120.3,371.4 L120.4,369.7 L120.4,368.0 L120.5,366.3 L120.5,364.6 L120.6,363.0 L120.7,361.3 L120.7,359.6 L120.8,357.9 L120.8,356.2 L120.9,354.6 L120.9,352.9 L121.0,351.2 L121.1,349.5 L121.1,347.8 L121.2,346.2 L121.2,344.5 L121.3,342.8 L121.3,341.1 L121.4,339.4 L121.4,337.8 L121.5,336.1 L121.5,334.4 L121.5,332.7 L121.6,331.0 L121.6,329.4 L121.7,327.7 L121.7,326.0 L121.8,324.3 L121.8,322.6 L121.8,321.0 L121.9,319.3 L121.9,317.6 L122.0,315.9 L122.0,314.2 L122.0,312.6 L122.1,310.9 L122.1,309.2 L122.1,307.5 L122.2,305.8 L122.2,304.1 L122.2,302.5 L122.3,300.8 L122.3,299.1 L122.3,297.4 L122.4,295.7 L122.4,294.1 L122.4,292.4 L122.5,290.7 L122.5,289.0 L122.5,287.3 L122.6,285.7 L122.6,284.0 L122.6,282.3 L122.6,280.6 L122.7,278.9 L122.7,277.3 L122.7,275.6 L122.7,273.9 L122.8,272.2 L122.8,270.5 L122.8,268.8 L122.8,267.2 L122.9,265.5 L122.9,263.8 L122.9,262.1 L122.9,260.4 L122.9,258.8 L123.0,257.1 L123.0,255.4 L123.0,253.7 L123.0,252.0 L123.0,250.4 L123.1,248.7 L123.1,247.0 L123.1,245.3 L123.1,243.6 L123.1,241.9 L123.2,240.3 L123.2,238.6 L123.2,236.9 L123.2,235.2 L123.2,233.5 L123.2,231.9 L123.2,230.2 L123.3,228.5 L123.3,226.8 L123.3,225.1 L123.3,223.4 L123.3,221.8 L123.3,220.1 L123.3,218.4 L123.4,216.7 L123.4,215.0 L123.4,213.4 L123.4,211.7 L123.4,210.0 L123.4,208.3 L123.4,206.6 L123.5,204.9 L123.5,203.3 L123.5,201.6 L123.5,199.9 L123.5,198.2 L123.5,196.5 L123.5,194.9 L123.5,193.2 L123.5,191.5 L123.6,189.8 L123.6,188.1 L123.6,186.5 L123.6,184.8 L123.6,183.1 L123.6,181.4 L123.6,179.7 L123.6,178.0 L123.6,176.4 L123.6,174.7 L123.7,173.0 L123.7,171.3 L123.7,169.6 L123.7,168.0 L123.7,166.3 L123.7,164.6 L123.7,162.9 L123.7,161.2 L123.7,159.5 L123.7,157.9 L123.7,156.2 L123.8,154.5 L123.8,152.8 L123.8,151.1 L123.8,149.5 L123.8,147.8 L123.8,146.1 L123.8,144.4 L123.8,142.7 L123.8,141.1 L123.8,139.4 L123.9,137.7 L123.9,136.0 L123.9,134.3 L123.9,132.6 L123.9,131.0 L123.9,129.3 L123.9,127.6 L123.9,125.9 L123.9,124.2 L124.0,122.6 L124.0,120.9 L124.0,119.2 L124.0,117.5 L124.0,115.8 L124.0,114.2 L124.0,112.5 L124.0,110.8 L124.0,109.1 L124.1,107.4 L124.1,105.8 L124.1,104.1 L124.1,102.4 L124.1,100.7 L124.1,99.0 L124.1,97.3 L124.2,95.7 L124.2,94.0 L124.2,92.3 L124.2,90.6 L124.2,88.9 L124.2,87.3 L124.3,85.6 L124.3,83.9 L124.3,82.2 L124.3,80.5 L124.3,78.9 L124.3,77.2 L124.4,75.5 L124.4,73.8 L124.4,72.1 L124.4,70.5 L124.4,68.8 L124.5,67.1 L124.5,65.4 L124.5,63.7 L124.5,62.1 L124.5,60.4 L124.6,58.7 L124.6,57.0 L124.6,55.3 L124.6,53.7 L124.7,52.0 L124.7,50.3 L124.7,48.6 L124.7,47.0 L124.8,45.3 L124.8,43.6 L124.8,41.9 L124.8,40.2 L124.9,38.6 L124.9,36.9 L124.9,35.2 L124.9,33.5 L125.0,31.8 L125.0,30.2 L125.0,28.5 L125.1,26.8 L125.1,25.1 L125.1,23.4 L125.2,21.8 L125.2,20.1 L125.2,18.4 L125.3,16.7 L125.3,15.1 L125.3,13.4 L125.4,11.7 L125.4,10.0" stroke="#8FDDD6" stroke-width="3.9" stroke-dasharray="13.148 13.148" stroke-linecap="square"/>
<path d="M150.3,26.0 L150.3,27.1 L150.3,28.4 L150.3,29.7 L150.3,31.0 L150.4,32.4 L150.4,33.7 L150.4,35.0 L150.4,36.3 L150.4,37.6 L150.4,38.9 L150.5,40.3 L150.5,41.6 L150.5,42.9 L150.5,44.2 L150.5,45.5 L150.6,46.8 L150.6,48.2 L150.6,49.5 L150.6,50.8 L150.7,52.1 L150.7,53.4 L150.7,54.7 L150.7,56.0 L150.8,57.4 L150.8,58.7 L150.8,60.0 L150.8,61.3 L150.9,62.6 L150.9,63.9 L150.9,65.2 L150.9,66.6 L151.0,67.9 L151.0,69.2 L151.0,70.5 L151.1,71.8 L151.1,73.1 L151.1,74.4 L151.1,75.7 L151.2,77.1 L151.2,78.4 L151.2,79.7 L151.3,81.0 L151.3,82.3 L151.3,83.6 L151.4,84.9 L151.4,86.2 L151.4,87.5 L151.5,88.9 L151.5,90.2 L151.5,91.5 L151.6,92.8 L151.6,94.1 L151.6,95.4 L151.7,96.7 L151.7,98.0 L151.8,99.3 L151.8,100.7 L151.8,102.0 L151.9,103.3 L151.9,104.6 L151.9,105.9 L152.0,107.2 L152.0,108.5 L152.1,109.8 L152.1,111.1 L152.1,112.5 L152.2,113.8 L152.2,115.1 L152.3,116.4 L152.3,117.7 L152.3,119.0 L152.4,120.3 L152.4,121.6 L152.5,122.9 L152.5,124.2 L152.6,125.5 L152.6,126.9 L152.7,128.2 L152.7,129.5 L152.7,130.8 L152.8,132.1 L152.8,133.4 L152.9,134.7 L152.9,136.0 L153.0,137.3 L153.0,138.6 L153.1,140.0 L153.1,141.3 L153.2,142.6 L153.2,143.9 L153.3,145.2 L153.3,146.5 L153.4,147.8 L153.4,149.1 L153.5,150.4 L153.5,151.7 L153.6,153.0 L153.6,154.3 L153.7,155.7 L153.7,157.0 L153.8,158.3 L153.8,159.6 L153.9,160.9 L153.9,162.2 L154.0,163.5 L154.0,164.8 L154.1,166.1 L154.1,167.4 L154.2,168.7 L154.2,170.1 L154.3,171.4 L154.4,172.7 L154.4,174.0 L154.5,175.3 L154.5,176.6 L154.6,177.9 L154.6,179.2 L154.7,180.5 L154.7,181.8 L154.8,183.1 L154.9,184.5 L154.9,185.8 L155.0,187.1 L155.0,188.4 L155.1,189.7 L155.1,191.0 L155.2,192.3 L155.3,193.6 L155.3,194.9 L155.4,196.2 L155.4,197.5 L155.5,198.9 L155.6,200.2 L155.6,201.5 L155.7,202.8 L155.8,204.1 L155.8,205.4 L155.9,206.7 L155.9,208.0 L156.0,209.3 L156.1,210.6 L156.1,212.0 L156.2,213.3 L156.3,214.6 L156.3,215.9 L156.4,217.2 L156.4,218.5 L156.5,219.8 L156.6,221.1 L156.6,222.4 L156.7,223.7 L156.8,225.1 L156.8,226.4 L156.9,227.7 L157.0,229.0 L157.0,230.3 L157.1,231.6 L157.2,232.9 L157.2,234.2 L157.3,235.5 L157.4,236.9 L157.4,238.2 L157.5,239.5 L157.6,240.8 L157.7,242.1 L157.7,243.4 L157.8,244.7 L157.9,246.0 L157.9,247.3 L158.0,248.7 L158.1,250.0 L158.1,251.3 L158.2,252.6 L158.3,253.9 L158.4,255.2 L158.4,256.5 L158.5,257.8 L158.6,259.2 L158.6,260.5 L158.7,261.8 L158.8,263.1 L158.9,264.4 L158.9,265.7 L159.0,267.0 L159.1,268.4 L159.2,269.7 L159.2,271.0 L159.3,272.3 L159.4,273.6 L159.4,274.9 L159.5,276.2 L159.6,277.6 L159.7,278.9 L159.7,280.2 L159.8,281.5 L159.9,282.8 L160.0,284.1 L160.1,285.4 L160.1,286.8 L160.2,288.1 L160.3,289.4 L160.4,290.7 L160.4,292.0 L160.5,293.3 L160.6,294.7 L160.7,296.0 L160.8,297.3 L160.9,298.6 L160.9,299.9 L161.0,301.2 L161.1,302.5 L161.2,303.9 L161.3,305.2 L161.4,306.5 L161.5,307.8 L161.6,309.1 L161.7,310.4 L161.8,311.7 L161.9,313.1 L162.0,314.4 L162.1,315.7 L162.2,317.0 L162.3,318.3 L162.4,319.6 L162.5,320.9 L162.6,322.3 L162.7,323.6 L162.9,324.9 L163.0,326.2 L163.1,327.5 L163.2,328.8 L163.3,330.1 L163.5,331.4 L163.6,332.7 L163.7,334.0 L163.9,335.3 L164.0,336.7 L164.2,338.0 L164.3,339.3 L164.4,340.6 L164.6,341.9 L164.8,343.2 L164.9,344.5 L165.1,345.8 L165.2,347.1 L165.4,348.4 L165.6,349.7 L165.7,351.0 L165.9,352.3 L166.1,353.6 L166.3,354.9 L166.5,356.2 L166.6,357.5 L166.8,358.8 L167.0,360.1 L167.2,361.4 L167.4,362.7 L167.6,364.0 L167.9,365.3 L168.1,366.6 L168.3,367.8 L168.5,369.1 L168.7,370.4 L169.0,371.7 L169.2,373.0 L169.4,374.3 L169.7,375.6 L169.9,376.9 L170.2,378.1 L170.5,379.4 L170.7,380.7 L171.0,382.0 L171.3,383.3 L171.5,384.6 L171.8,385.8 L172.1,387.1 L172.4,388.4 L172.7,389.7 L173.0,390.9 L173.3,392.2 L173.6,393.5 L173.9,394.8 L174.2,396.0 L174.6,397.3 L174.9,398.6 L175.2,399.8 L175.6,401.1 L175.9,402.4 L176.3,403.6 L176.6,404.9 L177.0,406.1 L177.4,407.4 L177.8,408.7 L178.1,409.9 L178.5,411.2 L178.9,412.4 L179.3,413.7 L179.7,414.9 L180.1,416.2 L180.6,417.4 L181.0,418.7 L181.4,419.9 L181.8,421.2 L182.3,422.4 L182.7,423.7 L183.2,424.9 L183.7,426.1 L184.1,427.4 L184.6,428.6 L185.1,429.8 L185.6,431.0 L186.1,432.2 L186.7,433.4 L187.2,434.6 L187.7,435.8 L188.3,437.0 L188.9,438.2 L189.4,439.4 L190.0,440.5 L190.6,441.7 L191.3,442.8 L191.9,444.0 L192.5,445.1 L193.2,446.2 L193.9,447.3 L194.6,448.4 L195.3,449.5 L196.0,450.6 L196.7,451.6 L197.5,452.7 L198.3,453.7 L199.1,454.7 L199.9,455.7 L200.7,456.7 L201.5,457.7 L202.4,458.6 L203.3,459.6 L204.2,460.5 L205.1,461.4 L206.1,462.3 L207.1,463.1 L208.1,464.0 L209.1,464.8 L210.1,465.6 L211.1,466.4 L212.2,467.2 L213.3,468.0 L214.4,468.7 L215.5,469.5 L216.7,470.2 L217.8,470.8 L219.0,471.5 L220.1,472.2 L221.3,472.8 L222.5,473.4 L223.7,474.0 L225.0,474.6 L226.2,475.2 L227.4,475.7 L228.6,476.2 L229.9,476.7 L231.1,477.2 L232.4,477.7 L233.6,478.2 L234.9,478.6 L236.2,479.0 L237.4,479.4 L238.7,479.8 L240.0,480.2 L241.2,480.5 L242.5,480.9 L243.8,481.2 L245.0,481.5 L246.3,481.8 L247.6,482.0 L248.9,482.3 L250.2,482.5 L251.4,482.7 L252.7,482.9 L254.0,483.1 L255.3,483.3 L256.6,483.4 L257.9,483.6 L259.2,483.7 L260.5,483.8 L261.7,483.9 L263.0,484.0 L264.3,484.1 L265.6,484.1 L266.9,484.2 L268.2,484.2 L269.5,484.2 L270.8,484.2 L272.1,484.2 L273.4,484.1 L274.7,484.1 L276.0,484.0 L277.3,483.9 L278.6,483.9 L279.9,483.8 L281.2,483.7 L282.5,483.5 L283.8,483.4 L285.1,483.2 L286.4,483.1 L287.7,482.9 L289.0,482.7 L290.3,482.5 L291.5,482.3 L292.8,482.1 L294.1,481.9 L295.4,481.6 L296.7,481.4 L298.0,481.1 L299.3,480.8 L300.6,480.5 L301.8,480.2 L303.1,479.9 L304.4,479.6 L305.7,479.3 L307.0,479.0 L308.2,478.6 L309.5,478.3 L310.8,477.9 L312.0,477.5 L313.3,477.1 L314.6,476.7 L315.8,476.3 L317.1,475.9 L318.3,475.5 L319.6,475.1 L320.9,474.7 L322.1,474.2 L323.4,473.8 L324.6,473.3 L325.8,472.9 L327.1,472.4 L328.3,472.0 L329.5,471.5 L330.8,471.0 L332.0,470.5 L333.2,470.0 L334.4,469.5 L335.7,469.0 L336.9,468.5 L338.1,468.0 L339.3,467.5 L340.5,467.0 L341.7,466.5 L342.9,465.9 L344.1,465.4 L345.2,464.8 L346.4,464.3 L347.6,463.7 L348.8,463.1 L349.9,462.5 L351.1,461.9 L352.3,461.3 L353.4,460.7 L354.6,460.1 L355.7,459.5 L356.9,458.8 L358.0,458.2 L359.1,457.6 L360.3,456.9 L361.4,456.3 L362.5,455.6 L363.6,454.9 L364.8,454.3 L365.9,453.6 L367.0,452.9 L368.1,452.2 L369.2,451.5 L370.3,450.8 L371.4,450.2 L372.6,449.5 L373.7,448.8 L374.8,448.1 L375.9,447.4 L377.0,446.6 L378.1,445.9 L379.2,445.2 L380.3,444.5 L381.3,443.8 L382.4,443.1 L383.5,442.4 L384.6,441.6 L385.7,440.9 L386.8,440.2 L387.9,439.5 L389.0,438.7 L390.1,438.0 L391.2,437.3 L392.3,436.6 L393.3,435.8 L394.4,435.1 L395.5,434.4 L396.6,433.7 L397.7,432.9 L398.8,432.2 L399.9,431.5 L401.0,430.8 L402.1,430.0 L403.2,429.3 L404.3,428.6 L405.4,427.9 L406.5,427.2 L407.6,426.4 L408.7,425.7 L409.8,425.0 L410.9,424.3 L412.0,423.6 L413.1,422.9 L414.2,422.2 L415.4,421.5 L416.5,420.8 L417.6,420.1 L418.7,419.4 L419.9,418.8 L421.0,418.1 L422.1,417.4 L423.2,416.7 L424.4,416.1 L425.5,415.4 L426.7,414.8 L427.8,414.1 L429.0,413.5 L430.1,412.8 L431.3,412.2 L432.5,411.5 L433.6,410.9 L434.8,410.3 L436.0,409.7 L437.2,409.1 L438.4,408.5 L439.5,407.9 L440.7,407.3 L441.9,406.7 L443.1,406.2 L444.3,405.6 L445.6,405.1 L446.8,404.6 L448.0,404.1 L449.2,403.6 L450.4,403.1 L451.7,402.7 L452.9,402.3 L454.2,401.8 L455.4,401.5 L456.7,401.1 L457.9,400.7 L459.2,400.4 L460.4,400.1 L461.7,399.8 L463.0,399.5 L464.3,399.3 L465.6,399.1 L466.8,398.9 L468.1,398.7 L469.4,398.6 L470.7,398.5 L472.0,398.4 L473.3,398.4 L474.6,398.3 L475.9,398.3 L477.3,398.4 L478.6,398.4 L479.9,398.5 L481.2,398.6 L482.5,398.7 L483.8,398.8 L485.1,399.0 L486.4,399.2 L487.7,399.4 L489.0,399.6 L490.3,399.8 L491.6,400.1 L492.9,400.4 L494.1,400.7 L495.4,401.0 L496.7,401.4 L497.9,401.8 L499.2,402.1 L500.4,402.6 L501.6,403.0 L502.9,403.4 L504.1,403.9 L505.3,404.4 L506.5,404.9 L507.7,405.4 L508.9,405.9 L510.0,406.5 L511.2,407.0 L512.4,407.6 L513.5,408.2 L514.7,408.8 L515.8,409.4 L517.0,410.1 L518.1,410.7 L519.2,411.4 L520.4,412.1 L521.5,412.7 L522.6,413.4 L523.7,414.1 L524.8,414.9 L525.9,415.6 L527.0,416.3 L528.0,417.1 L529.1,417.9 L530.2,418.6 L531.3,419.4 L532.3,420.2 L533.4,421.0 L534.4,421.8 L535.5,422.6 L536.5,423.4 L537.6,424.3 L538.6,425.1 L539.6,425.9 L540.7,426.8 L541.7,427.6 L542.7,428.5 L543.7,429.3 L544.8,430.2 L545.8,431.1 L546.8,431.9 L547.8,432.8 L548.8,433.7 L549.8,434.5 L550.8,435.4 L551.8,436.3 L552.8,437.2 L553.8,438.1 L554.8,438.9 L555.8,439.8 L556.8,440.7 L557.7,441.6 L558.7,442.5 L559.7,443.3 L560.7,444.2 L561.7,445.1 L562.7,446.0 L563.6,446.9 L564.6,447.8 L565.6,448.6 L566.5,449.5 L567.5,450.4 L568.5,451.3 L569.4,452.2 L570.4,453.1 L571.4,454.0 L572.3,454.9 L573.3,455.7 L574.2,456.6 L575.2,457.5 L576.1,458.4 L577.1,459.3 L578.0,460.2 L579.0,461.1 L579.9,462.0 L580.9,462.9 L581.8,463.8 L582.7,464.7 L583.7,465.6 L584.6,466.5 L585.5,467.4 L586.5,468.3 L587.4,469.2 L588.3,470.1 L589.3,471.0 L590.2,471.9 L591.1,472.8 L592.0,473.7 L593.0,474.6 L593.9,475.5 L594.8,476.4 L595.8,477.3 L596.7,478.2 L597.6,479.1 L598.6,480.0 L599.5,480.9 L600.5,481.7 L601.4,482.6 L602.4,483.5 L603.3,484.4 L604.3,485.2 L605.3,486.1 L606.3,486.9 L607.2,487.8 L608.2,488.6 L609.2,489.4 L610.2,490.3 L611.3,491.1 L612.3,491.9 L613.3,492.7 L614.4,493.5 L615.4,494.2 L616.5,495.0 L617.6,495.8 L618.7,496.5 L619.8,497.3 L620.9,498.0 L622.0,498.7 L623.1,499.4 L624.3,500.1 L625.4,500.8 L626.6,501.5 L627.8,502.2 L629.0,502.8 L630.1,503.5 L631.3,504.1 L632.6,504.7 L633.8,505.3 L635.0,505.9 L636.2,506.4 L637.5,507.0 L638.7,507.5 L640.0,508.0 L641.2,508.5 L642.5,509.0 L643.7,509.5 L645.0,509.9 L646.3,510.4 L647.6,510.8 L648.8,511.2 L650.1,511.6 L651.4,511.9 L652.7,512.3 L654.0,512.6 L655.3,512.9 L656.6,513.2 L657.9,513.5 L659.2,513.7 L660.5,513.9 L661.8,514.1 L663.1,514.3 L664.4,514.5 L665.7,514.6 L667.0,514.7 L668.2,514.8 L669.5,514.9 L670.8,514.9 L672.1,515.0 L673.4,515.0 L674.7,514.9 L676.0,514.9 L677.2,514.8 L678.5,514.7 L679.8,514.6 L681.0,514.4 L682.3,514.2 L683.5,514.0 L684.8,513.8 L686.0,513.5 L687.2,513.3 L688.5,513.0 L689.7,512.7 L690.9,512.3 L692.1,511.9 L693.3,511.6 L694.5,511.2 L695.7,510.7 L696.9,510.3 L698.1,509.8 L699.3,509.3 L700.5,508.8 L701.7,508.3 L702.8,507.8 L704.0,507.2 L705.2,506.6 L706.3,506.0 L707.5,505.4 L708.6,504.8 L709.8,504.2 L710.9,503.5 L712.0,502.9 L713.2,502.2 L714.3,501.5 L715.4,500.8 L716.5,500.0 L717.6,499.3 L718.7,498.5 L719.8,497.8 L720.9,497.0 L722.0,496.2 L723.1,495.4 L724.1,494.6 L725.2,493.8 L726.3,493.0 L727.3,492.2 L728.4,491.3 L729.4,490.5 L730.5,489.6 L731.5,488.7 L732.6,487.9 L733.6,487.0 L734.6,486.1 L735.6,485.2 L736.6,484.3 L737.7,483.4 L738.7,482.5 L739.7,481.6 L740.6,480.7 L741.6,479.7 L742.6,478.8 L743.6,477.9 L744.6,477.0 L745.5,476.0 L746.5,475.1 L747.4,474.2 L748.4,473.2 L749.3,472.3 L750.3,471.4 L751.2,470.4 L752.1,469.5 L753.0,468.6 L753.9,467.6 L754.9,466.7 L755.8,465.8 L756.7,464.8 L757.6,463.9 L758.5,462.9 L759.3,462.0 L760.2,461.0 L761.1,460.1 L762.0,459.1 L762.9,458.2 L763.7,457.2 L764.6,456.3 L765.5,455.3 L766.3,454.4 L767.2,453.4 L768.0,452.4 L768.9,451.5 L769.7,450.5 L770.6,449.5 L771.4,448.5 L772.2,447.6 L773.1,446.6 L773.9,445.6 L774.7,444.6 L775.5,443.6 L776.4,442.6 L777.2,441.6 L778.0,440.6 L778.8,439.6 L779.6,438.6 L780.4,437.6 L781.3,436.6 L782.1,435.5 L782.9,434.5 L783.7,433.5 L784.5,432.4 L785.3,431.4 L786.1,430.3 L786.9,429.3 L787.6,428.2 L788.4,427.2 L789.2,426.1 L789.9,425.0 L790.7,423.9 L791.4,422.9 L792.2,421.8 L792.9,420.7 L793.6,419.6 L794.3,418.5 L795.0,417.3 L795.7,416.2 L796.4,415.1 L797.1,414.0 L797.7,412.8 L798.4,411.7 L799.0,410.6 L799.7,409.4 L800.3,408.3 L801.0,407.1 L801.6,406.0 L802.2,404.8 L802.8,403.7 L803.5,402.5 L804.1,401.4 L804.7,400.2 L805.3,399.0 L805.9,397.8 L806.5,396.7 L807.1,395.5 L807.7,394.3 L808.3,393.2 L808.8,392.0 L809.4,390.8 L810.0,389.6 L810.6,388.4 L811.2,387.3 L811.8,386.1 L812.3,384.9 L812.9,383.7 L813.5,382.5 L814.0,381.3 L814.6,380.2 L815.2,379.0 L815.7,377.8 L816.3,376.6 L816.8,375.4 L817.4,374.2 L817.9,373.0 L818.4,371.8 L819.0,370.6 L819.5,369.4 L820.0,368.2 L820.6,367.0 L821.1,365.8 L821.6,364.6 L822.1,363.4 L822.6,362.1 L823.1,360.9 L823.6,359.7 L824.1,358.5 L824.6,357.3 L825.1,356.1 L825.5,354.8 L826.0,353.6 L826.5,352.4 L826.9,351.2 L827.4,349.9 L827.8,348.7 L828.3,347.5 L828.7,346.2 L829.1,345.0 L829.5,343.7 L830.0,342.5 L830.4,341.2 L830.8,340.0 L831.2,338.8 L831.6,337.5 L832.0,336.3 L832.4,335.0 L832.8,333.7 L833.1,332.5 L833.5,331.2 L833.9,330.0 L834.2,328.7 L834.6,327.5 L835.0,326.2 L835.3,324.9 L835.7,323.7 L836.0,322.4 L836.4,321.1 L836.7,319.9 L837.1,318.6 L837.4,317.3 L837.7,316.1 L838.1,314.8 L838.4,313.5 L838.7,312.3 L839.1,311.0 L839.4,309.7 L839.7,308.4 L840.0,307.2 L840.3,305.9 L840.6,304.6 L841.0,303.3 L841.3,302.1 L841.6,300.8 L841.9,299.5 L842.2,298.2 L842.5,297.0 L842.8,295.7 L843.1,294.4 L843.4,293.1 L843.7,291.8 L844.0,290.6 L844.3,289.3 L844.6,288.0 L844.9,286.7 L845.2,285.5 L845.5,284.2 L845.8,282.9 L846.1,281.6 L846.4,280.3 L846.7,279.1 L847.0,277.8 L847.3,276.5 L847.5,275.2 L847.8,273.9 L848.1,272.6 L848.4,271.4 L848.7,270.1 L848.9,268.8 L849.2,267.5 L849.5,266.2 L849.8,265.0 L850.0,263.7 L850.3,262.4 L850.6,261.1 L850.9,259.8 L851.1,258.5 L851.4,257.2 L851.7,256.0 L851.9,254.7 L852.2,253.4 L852.4,252.1 L852.7,250.8 L853.0,249.5 L853.2,248.2 L853.5,247.0 L853.7,245.7 L854.0,244.4 L854.2,243.1 L854.5,241.8 L854.7,240.5 L855.0,239.2 L855.2,237.9 L855.5,236.6 L855.7,235.4 L856.0,234.1 L856.2,232.8 L856.4,231.5 L856.7,230.2 L856.9,228.9 L857.2,227.6 L857.4,226.3 L857.6,225.0 L857.9,223.7 L858.1,222.4 L858.3,221.2 L858.6,219.9 L858.8,218.6 L859.0,217.3 L859.2,216.0 L859.5,214.7 L859.7,213.4 L859.9,212.1 L860.1,210.8 L860.3,209.5 L860.6,208.2 L860.8,206.9 L861.0,205.6 L861.2,204.3 L861.4,203.0 L861.6,201.8 L861.9,200.5 L862.1,199.2 L862.3,197.9 L862.5,196.6 L862.7,195.3 L862.9,194.0 L863.1,192.7 L863.3,191.4 L863.5,190.1 L863.7,188.8 L863.9,187.5 L864.1,186.2 L864.3,184.9 L864.5,183.6 L864.7,182.3 L864.9,181.0 L865.1,179.7 L865.3,178.4 L865.5,177.1 L865.7,175.8 L865.9,174.5 L866.1,173.2 L866.3,171.9 L866.4,170.6 L866.6,169.3 L866.8,168.0 L867.0,166.7 L867.2,165.4 L867.4,164.1 L867.5,162.8 L867.7,161.5 L867.9,160.2 L868.1,158.9 L868.3,157.6 L868.4,156.3 L868.6,155.0 L868.8,153.7 L869.0,152.4 L869.1,151.1 L869.3,149.8 L869.5,148.5 L869.6,147.2 L869.8,145.9 L870.0,144.6 L870.1,143.3 L870.3,142.0 L870.5,140.7 L870.6,139.4 L870.8,138.1 L871.0,136.8 L871.1,135.5 L871.3,134.2 L871.4,132.9 L871.6,131.6 L871.8,130.3 L871.9,129.0 L872.1,127.7 L872.2,126.3 L872.4,125.0 L872.5,123.7 L872.7,122.4 L872.8,121.1 L873.0,119.8 L873.1,118.5 L873.3,117.2 L873.4,115.9 L873.6,114.6 L873.7,113.3 L873.9,112.0 L874.0,110.7 L874.1,109.4 L874.3,108.1 L874.4,106.8 L874.6,105.5 L874.7,104.2 L874.8,102.9 L875.0,101.5 L875.1,100.2 L875.3,98.9 L875.4,97.6 L875.5,96.3 L875.7,95.0 L875.8,93.7 L875.9,92.4 L876.1,91.1 L876.2,89.8 L876.3,88.5 L876.4,87.2 L876.6,85.9 L876.7,84.6 L876.8,83.3 L876.9,82.0 L877.1,80.6 L877.2,79.3 L877.3,78.0 L877.4,76.7 L877.6,75.4 L877.7,74.1 L877.8,72.8 L877.9,71.5 L878.0,70.2 L878.2,68.9 L878.3,67.6 L878.4,66.3 L878.5,65.0 L878.6,63.6 L878.7,62.3 L878.8,61.0 L879.0,59.7 L879.1,58.4 L879.2,57.1 L879.3,55.8 L879.4,54.5 L879.5,53.2 L879.6,51.9 L879.7,50.6 L879.8,49.3 L879.9,47.9 L880.0,46.6 L880.1,45.3 L880.2,44.0 L880.3,42.7 L880.4,41.4 L880.5,40.1 L880.6,38.8 L880.7,37.5 L880.8,36.2 L880.9,34.9 L881.0,33.6 L881.1,32.2 L881.2,30.9 L881.3,29.6 L881.4,28.3 L881.5,27.0 L881.6,25.7 L881.7,24.4 L881.8,23.1 L881.9,21.8 L882.0,20.5 L882.1,19.2 L882.2,17.9 L882.3,16.5 L882.4,15.2 L882.4,13.9 L882.5,12.6 L882.6,11.3 L882.7,10.0" stroke="#8FDDD6" stroke-width="3.9" stroke-dasharray="13.148 13.148" stroke-linecap="square" stroke-dashoffset="-1"/>
<path d="M109.4,512.0 L109.7,510.4 L110.0,508.7 L110.3,507.1 L110.6,505.4 L110.9,503.8 L111.1,502.1 L111.4,500.4 L111.7,498.8 L111.9,497.1 L112.2,495.5 L112.4,493.8 L112.7,492.1 L112.9,490.5 L113.2,488.8 L113.4,487.1 L113.7,485.5 L113.9,483.8 L114.1,482.1 L114.4,480.5 L114.6,478.8 L114.8,477.2 L115.0,475.5 L115.2,473.8 L115.4,472.2 L115.6,470.5 L115.8,468.8 L116.0,467.2 L116.2,465.5 L116.4,463.8 L116.6,462.1 L116.8,460.5 L117.0,458.8 L117.1,457.1 L117.3,455.5 L117.5,453.8 L117.7,452.1 L117.8,450.5 L118.0,448.8 L118.1,447.1 L118.3,445.4 L118.5,443.8 L118.6,442.1 L118.8,440.4 L118.9,438.7 L119.0,437.1 L119.2,435.4 L119.3,433.7 L119.5,432.1 L119.6,430.4 L119.7,428.7 L119.8,427.0 L120.0,425.4 L120.1,423.7 L120.2,422.0 L120.3,420.3 L120.4,418.6 L120.6,417.0 L120.7,415.3 L120.8,413.6 L120.9,411.9 L121.0,410.3 L121.1,408.6 L121.2,406.9 L121.3,405.2 L121.4,403.5 L121.5,401.9 L121.6,400.2 L121.7,398.5 L121.7,396.8 L121.8,395.2 L121.9,393.5 L122.0,391.8 L122.1,390.1 L122.2,388.4 L122.2,386.8 L122.3,385.1 L122.4,383.4 L122.5,381.7 L122.5,380.0 L122.6,378.4 L122.7,376.7 L122.7,375.0 L122.8,373.3 L122.9,371.6 L122.9,370.0 L123.0,368.3 L123.1,366.6 L123.1,364.9 L123.2,363.2 L123.2,361.5 L123.3,359.9 L123.3,358.2 L123.4,356.5 L123.5,354.8 L123.5,353.1 L123.6,351.5 L123.6,349.8 L123.7,348.1 L123.7,346.4 L123.8,344.7 L123.8,343.0 L123.9,341.4 L123.9,339.7 L123.9,338.0 L124.0,336.3 L124.0,334.6 L124.1,332.9 L124.1,331.3 L124.2,329.6 L124.2,327.9 L124.2,326.2 L124.3,324.5 L124.3,322.9 L124.4,321.2 L124.4,319.5 L124.5,317.8 L124.5,316.1 L124.5,314.4 L124.6,312.8 L124.6,311.1 L124.6,309.4 L124.7,307.7 L124.7,306.0 L124.8,304.3 L124.8,302.7 L124.8,301.0 L124.9,299.3 L124.9,297.6 L124.9,295.9 L125.0,294.3 L125.0,292.6 L125.0,290.9 L125.1,289.2 L125.1,287.5 L125.1,285.8 L125.2,284.2 L125.2,282.5 L125.2,280.8 L125.3,279.1 L125.3,277.4 L125.3,275.7 L125.4,274.1 L125.4,272.4 L125.4,270.7 L125.4,269.0 L125.5,267.3 L125.5,265.7 L125.5,264.0 L125.6,262.3 L125.6,260.6 L125.6,258.9 L125.6,257.2 L125.7,255.6 L125.7,253.9 L125.7,252.2 L125.7,250.5 L125.8,248.8 L125.8,247.1 L125.8,245.5 L125.8,243.8 L125.9,242.1 L125.9,240.4 L125.9,238.7 L125.9,237.0 L126.0,235.4 L126.0,233.7 L126.0,232.0 L126.0,230.3 L126.1,228.6 L126.1,227.0 L126.1,225.3 L126.1,223.6 L126.1,221.9 L126.2,220.2 L126.2,218.5 L126.2,216.9 L126.2,215.2 L126.3,213.5 L126.3,211.8 L126.3,210.1 L126.3,208.4 L126.3,206.8 L126.4,205.1 L126.4,203.4 L126.4,201.7 L126.4,200.0 L126.4,198.4 L126.5,196.7 L126.5,195.0 L126.5,193.3 L126.5,191.6 L126.5,189.9 L126.6,188.3 L126.6,186.6 L126.6,184.9 L126.6,183.2 L126.6,181.5 L126.7,179.9 L126.7,178.2 L126.7,176.5 L126.7,174.8 L126.7,173.1 L126.7,171.4 L126.8,169.8 L126.8,168.1 L126.8,166.4 L126.8,164.7 L126.8,163.0 L126.9,161.3 L126.9,159.7 L126.9,158.0 L126.9,156.3 L126.9,154.6 L126.9,152.9 L127.0,151.3 L127.0,149.6 L127.0,147.9 L127.0,146.2 L127.0,144.5 L127.0,142.8 L127.1,141.2 L127.1,139.5 L127.1,137.8 L127.1,136.1 L127.1,134.4 L127.1,132.8 L127.2,131.1 L127.2,129.4 L127.2,127.7 L127.2,126.0 L127.2,124.3 L127.3,122.7 L127.3,121.0 L127.3,119.3 L127.3,117.6 L127.3,115.9 L127.3,114.3 L127.4,112.6 L127.4,110.9 L127.4,109.2 L127.4,107.5 L127.4,105.8 L127.5,104.2 L127.5,102.5 L127.5,100.8 L127.5,99.1 L127.5,97.4 L127.5,95.8 L127.6,94.1 L127.6,92.4 L127.6,90.7 L127.6,89.0 L127.6,87.3 L127.7,85.7 L127.7,84.0 L127.7,82.3 L127.7,80.6 L127.7,78.9 L127.8,77.3 L127.8,75.6 L127.8,73.9 L127.8,72.2 L127.8,70.5 L127.9,68.8 L127.9,67.2 L127.9,65.5 L127.9,63.8 L128.0,62.1 L128.0,60.4 L128.0,58.8 L128.0,57.1 L128.0,55.4 L128.1,53.7 L128.1,52.0 L128.1,50.4 L128.1,48.7 L128.2,47.0 L128.2,45.3 L128.2,43.6 L128.2,41.9 L128.3,40.3 L128.3,38.6 L128.3,36.9 L128.3,35.2 L128.4,33.5 L128.4,31.9 L128.4,30.2 L128.4,28.5 L128.5,26.8 L128.5,25.1 L128.5,23.5 L128.5,21.8 L128.6,20.1 L128.6,18.4 L128.6,16.7 L128.7,15.1 L128.7,13.4 L128.7,11.7 L128.8,10.0" stroke="#F87C7C" stroke-width="3.9" stroke-dasharray="17.530 17.530" stroke-linecap="square"/>
<path d="M155.3,26.0 L155.4,26.7 L155.4,28.0 L155.4,29.3 L155.5,30.6 L155.5,31.9 L155.5,33.2 L155.6,34.5 L155.6,35.8 L155.6,37.0 L155.7,38.3 L155.7,39.6 L155.7,40.9 L155.7,42.2 L155.8,43.5 L155.8,44.8 L155.8,46.1 L155.9,47.4 L155.9,48.6 L155.9,49.9 L156.0,51.2 L156.0,52.5 L156.0,53.8 L156.1,55.1 L156.1,56.4 L156.1,57.7 L156.1,59.0 L156.2,60.2 L156.2,61.5 L156.2,62.8 L156.3,64.1 L156.3,65.4 L156.3,66.7 L156.4,68.0 L156.4,69.3 L156.4,70.6 L156.4,71.8 L156.5,73.1 L156.5,74.4 L156.5,75.7 L156.6,77.0 L156.6,78.3 L156.6,79.6 L156.6,80.9 L156.7,82.2 L156.7,83.5 L156.7,84.7 L156.8,86.0 L156.8,87.3 L156.8,88.6 L156.9,89.9 L156.9,91.2 L156.9,92.5 L157.0,93.8 L157.0,95.1 L157.0,96.3 L157.0,97.6 L157.1,98.9 L157.1,100.2 L157.1,101.5 L157.2,102.8 L157.2,104.1 L157.2,105.4 L157.3,106.7 L157.3,108.0 L157.3,109.2 L157.4,110.5 L157.4,111.8 L157.4,113.1 L157.5,114.4 L157.5,115.7 L157.5,117.0 L157.6,118.3 L157.6,119.6 L157.6,120.9 L157.6,122.1 L157.7,123.4 L157.7,124.7 L157.8,126.0 L157.8,127.3 L157.8,128.6 L157.9,129.9 L157.9,131.2 L157.9,132.5 L158.0,133.8 L158.0,135.0 L158.0,136.3 L158.1,137.6 L158.1,138.9 L158.1,140.2 L158.2,141.5 L158.2,142.8 L158.2,144.1 L158.3,145.4 L158.3,146.7 L158.4,147.9 L158.4,149.2 L158.4,150.5 L158.5,151.8 L158.5,153.1 L158.6,154.4 L158.6,155.7 L158.6,157.0 L158.7,158.3 L158.7,159.6 L158.8,160.8 L158.8,162.1 L158.8,163.4 L158.9,164.7 L158.9,166.0 L159.0,167.3 L159.0,168.6 L159.1,169.9 L159.1,171.2 L159.1,172.5 L159.2,173.7 L159.2,175.0 L159.3,176.3 L159.3,177.6 L159.4,178.9 L159.4,180.2 L159.5,181.5 L159.5,182.8 L159.6,184.1 L159.6,185.3 L159.7,186.6 L159.7,187.9 L159.8,189.2 L159.8,190.5 L159.9,191.8 L159.9,193.1 L160.0,194.4 L160.0,195.7 L160.1,196.9 L160.1,198.2 L160.2,199.5 L160.2,200.8 L160.3,202.1 L160.3,203.4 L160.4,204.7 L160.4,206.0 L160.5,207.3 L160.6,208.5 L160.6,209.8 L160.7,211.1 L160.7,212.4 L160.8,213.7 L160.9,215.0 L160.9,216.3 L161.0,217.6 L161.0,218.9 L161.1,220.1 L161.2,221.4 L161.2,222.7 L161.3,224.0 L161.4,225.3 L161.4,226.6 L161.5,227.9 L161.5,229.2 L161.6,230.4 L161.7,231.7 L161.7,233.0 L161.8,234.3 L161.9,235.6 L162.0,236.9 L162.0,238.2 L162.1,239.5 L162.2,240.7 L162.2,242.0 L162.3,243.3 L162.4,244.6 L162.5,245.9 L162.5,247.2 L162.6,248.5 L162.7,249.8 L162.8,251.0 L162.8,252.3 L162.9,253.6 L163.0,254.9 L163.1,256.2 L163.2,257.5 L163.2,258.8 L163.3,260.0 L163.4,261.3 L163.5,262.6 L163.6,263.9 L163.7,265.2 L163.7,266.5 L163.8,267.8 L163.9,269.0 L164.0,270.3 L164.1,271.6 L164.2,272.9 L164.3,274.2 L164.4,275.5 L164.4,276.8 L164.5,278.0 L164.6,279.3 L164.7,280.6 L164.8,281.9 L164.9,283.2 L165.0,284.5 L165.1,285.7 L165.2,287.0 L165.3,288.3 L165.4,289.6 L165.5,290.9 L165.6,292.2 L165.7,293.5 L165.8,294.7 L165.9,296.0 L166.0,297.3 L166.1,298.6 L166.2,299.9 L166.3,301.2 L166.5,302.4 L166.6,303.7 L166.7,305.0 L166.8,306.3 L166.9,307.6 L167.0,308.9 L167.1,310.1 L167.3,311.4 L167.4,312.7 L167.5,314.0 L167.6,315.3 L167.8,316.5 L167.9,317.8 L168.0,319.1 L168.1,320.4 L168.3,321.7 L168.4,323.0 L168.5,324.2 L168.7,325.5 L168.8,326.8 L168.9,328.1 L169.1,329.4 L169.2,330.6 L169.4,331.9 L169.5,333.2 L169.7,334.5 L169.8,335.8 L170.0,337.1 L170.1,338.3 L170.3,339.6 L170.4,340.9 L170.6,342.2 L170.7,343.5 L170.9,344.7 L171.1,346.0 L171.2,347.3 L171.4,348.6 L171.5,349.9 L171.7,351.1 L171.9,352.4 L172.1,353.7 L172.2,355.0 L172.4,356.3 L172.6,357.5 L172.8,358.8 L173.0,360.1 L173.1,361.4 L173.3,362.6 L173.5,363.9 L173.7,365.2 L173.9,366.5 L174.1,367.8 L174.3,369.0 L174.5,370.3 L174.7,371.6 L174.9,372.9 L175.1,374.1 L175.4,375.4 L175.6,376.7 L175.8,378.0 L176.0,379.2 L176.3,380.5 L176.5,381.8 L176.7,383.1 L177.0,384.3 L177.2,385.6 L177.5,386.9 L177.7,388.1 L178.0,389.4 L178.3,390.7 L178.5,391.9 L178.8,393.2 L179.1,394.4 L179.4,395.7 L179.7,397.0 L180.0,398.2 L180.3,399.5 L180.6,400.7 L181.0,402.0 L181.3,403.2 L181.7,404.4 L182.0,405.7 L182.4,406.9 L182.7,408.2 L183.1,409.4 L183.5,410.6 L183.9,411.9 L184.3,413.1 L184.7,414.3 L185.1,415.5 L185.5,416.8 L186.0,418.0 L186.4,419.2 L186.9,420.4 L187.3,421.6 L187.8,422.8 L188.3,424.0 L188.8,425.2 L189.3,426.4 L189.8,427.6 L190.4,428.8 L190.9,430.0 L191.5,431.1 L192.0,432.3 L192.6,433.4 L193.2,434.6 L193.8,435.7 L194.4,436.9 L195.1,438.0 L195.7,439.1 L196.3,440.2 L197.0,441.3 L197.7,442.4 L198.4,443.5 L199.1,444.5 L199.8,445.6 L200.6,446.6 L201.3,447.7 L202.1,448.7 L202.9,449.7 L203.7,450.7 L204.5,451.7 L205.3,452.6 L206.2,453.6 L207.0,454.5 L207.9,455.4 L208.8,456.3 L209.7,457.2 L210.6,458.1 L211.6,459.0 L212.5,459.8 L213.5,460.6 L214.5,461.4 L215.5,462.2 L216.5,463.0 L217.6,463.8 L218.6,464.5 L219.7,465.3 L220.7,466.0 L221.8,466.7 L222.9,467.4 L224.0,468.0 L225.1,468.7 L226.3,469.3 L227.4,469.9 L228.6,470.5 L229.7,471.1 L230.9,471.7 L232.1,472.3 L233.2,472.8 L234.4,473.3 L235.6,473.8 L236.8,474.3 L238.1,474.8 L239.3,475.3 L240.5,475.7 L241.7,476.2 L243.0,476.6 L244.2,477.0 L245.4,477.4 L246.7,477.7 L247.9,478.1 L249.2,478.4 L250.5,478.7 L251.7,479.0 L253.0,479.3 L254.2,479.6 L255.5,479.9 L256.8,480.1 L258.1,480.3 L259.3,480.6 L260.6,480.8 L261.9,480.9 L263.2,481.1 L264.4,481.3 L265.7,481.4 L267.0,481.5 L268.3,481.6 L269.5,481.7 L270.8,481.8 L272.1,481.9 L273.4,481.9 L274.7,482.0 L275.9,482.0 L277.2,482.0 L278.5,482.0 L279.8,482.0 L281.1,481.9 L282.3,481.9 L283.6,481.8 L284.9,481.8 L286.2,481.7 L287.5,481.6 L288.7,481.5 L290.0,481.4 L291.3,481.2 L292.6,481.1 L293.8,480.9 L295.1,480.8 L296.4,480.6 L297.7,480.4 L298.9,480.2 L300.2,480.0 L301.5,479.8 L302.7,479.5 L304.0,479.3 L305.3,479.1 L306.5,478.8 L307.8,478.5 L309.1,478.3 L310.3,478.0 L311.6,477.7 L312.8,477.4 L314.1,477.1 L315.4,476.8 L316.6,476.5 L317.9,476.2 L319.1,475.9 L320.4,475.5 L321.7,475.2 L322.9,474.9 L324.2,474.5 L325.4,474.2 L326.7,473.8 L327.9,473.5 L329.2,473.1 L330.4,472.8 L331.7,472.4 L332.9,472.1 L334.2,471.7 L335.4,471.3 L336.7,470.9 L337.9,470.6 L339.2,470.2 L340.4,469.8 L341.6,469.4 L342.9,469.0 L344.1,468.6 L345.3,468.2 L346.5,467.7 L347.8,467.3 L349.0,466.9 L350.2,466.4 L351.4,466.0 L352.6,465.5 L353.8,465.1 L355.0,464.6 L356.2,464.1 L357.4,463.7 L358.6,463.2 L359.7,462.7 L360.9,462.2 L362.1,461.7 L363.2,461.2 L364.4,460.6 L365.5,460.1 L366.7,459.6 L367.8,459.0 L369.0,458.5 L370.1,457.9 L371.2,457.4 L372.4,456.8 L373.5,456.2 L374.6,455.7 L375.8,455.1 L376.9,454.5 L378.0,453.9 L379.1,453.4 L380.2,452.8 L381.4,452.2 L382.5,451.6 L383.6,451.0 L384.7,450.4 L385.9,449.8 L387.0,449.2 L388.1,448.6 L389.2,448.0 L390.3,447.4 L391.5,446.8 L392.6,446.2 L393.7,445.5 L394.9,444.9 L396.0,444.3 L397.1,443.7 L398.3,443.1 L399.4,442.5 L400.6,441.9 L401.7,441.3 L402.9,440.7 L404.1,440.1 L405.2,439.6 L406.4,439.0 L407.6,438.4 L408.8,437.8 L409.9,437.2 L411.1,436.7 L412.3,436.1 L413.5,435.5 L414.7,435.0 L415.9,434.4 L417.1,433.9 L418.3,433.3 L419.5,432.8 L420.7,432.3 L421.9,431.8 L423.1,431.2 L424.4,430.7 L425.6,430.2 L426.8,429.7 L428.0,429.3 L429.3,428.8 L430.5,428.3 L431.7,427.9 L432.9,427.4 L434.2,427.0 L435.4,426.6 L436.7,426.2 L437.9,425.8 L439.1,425.4 L440.4,425.0 L441.6,424.6 L442.9,424.3 L444.1,423.9 L445.4,423.6 L446.6,423.3 L447.9,423.0 L449.1,422.7 L450.4,422.4 L451.6,422.1 L452.9,421.9 L454.2,421.6 L455.4,421.4 L456.7,421.2 L457.9,421.0 L459.2,420.8 L460.5,420.7 L461.7,420.5 L463.0,420.4 L464.3,420.3 L465.5,420.2 L466.8,420.1 L468.0,420.1 L469.3,420.0 L470.6,420.0 L471.8,420.0 L473.1,420.0 L474.4,420.0 L475.6,420.1 L476.9,420.2 L478.1,420.3 L479.4,420.4 L480.7,420.5 L481.9,420.6 L483.2,420.8 L484.4,421.0 L485.7,421.2 L486.9,421.4 L488.2,421.6 L489.4,421.9 L490.7,422.1 L491.9,422.4 L493.2,422.7 L494.4,423.0 L495.7,423.3 L496.9,423.7 L498.1,424.0 L499.4,424.4 L500.6,424.8 L501.8,425.2 L503.0,425.6 L504.3,426.0 L505.5,426.5 L506.7,426.9 L507.9,427.4 L509.1,427.9 L510.3,428.3 L511.5,428.8 L512.7,429.4 L513.9,429.9 L515.1,430.4 L516.3,431.0 L517.5,431.5 L518.6,432.1 L519.8,432.7 L521.0,433.3 L522.1,433.9 L523.3,434.5 L524.5,435.1 L525.6,435.7 L526.7,436.4 L527.9,437.0 L529.0,437.7 L530.1,438.4 L531.2,439.0 L532.4,439.7 L533.5,440.4 L534.6,441.1 L535.7,441.8 L536.8,442.5 L537.8,443.2 L538.9,444.0 L540.0,444.7 L541.1,445.4 L542.1,446.2 L543.2,446.9 L544.2,447.7 L545.3,448.5 L546.3,449.2 L547.3,450.0 L548.4,450.8 L549.4,451.6 L550.4,452.3 L551.4,453.1 L552.5,453.9 L553.5,454.7 L554.5,455.5 L555.5,456.3 L556.5,457.1 L557.5,457.9 L558.5,458.7 L559.5,459.5 L560.5,460.3 L561.5,461.1 L562.5,461.9 L563.5,462.7 L564.5,463.5 L565.5,464.3 L566.5,465.1 L567.5,465.9 L568.5,466.7 L569.4,467.5 L570.4,468.3 L571.4,469.1 L572.4,469.9 L573.4,470.7 L574.4,471.5 L575.4,472.3 L576.4,473.1 L577.4,473.8 L578.4,474.6 L579.5,475.4 L580.5,476.1 L581.5,476.9 L582.5,477.7 L583.5,478.4 L584.5,479.2 L585.6,480.0 L586.6,480.7 L587.6,481.5 L588.7,482.2 L589.7,482.9 L590.7,483.7 L591.8,484.4 L592.8,485.2 L593.9,485.9 L595.0,486.6 L596.0,487.3 L597.1,488.1 L598.2,488.8 L599.3,489.5 L600.3,490.2 L601.4,490.9 L602.5,491.6 L603.6,492.3 L604.7,493.0 L605.9,493.7 L607.0,494.4 L608.1,495.0 L609.2,495.7 L610.4,496.4 L611.5,497.1 L612.7,497.7 L613.8,498.4 L615.0,499.0 L616.1,499.6 L617.3,500.3 L618.5,500.9 L619.6,501.5 L620.8,502.1 L622.0,502.7 L623.2,503.3 L624.4,503.8 L625.6,504.4 L626.8,505.0 L628.0,505.5 L629.2,506.0 L630.4,506.5 L631.6,507.0 L632.8,507.5 L634.0,508.0 L635.2,508.5 L636.5,508.9 L637.7,509.4 L638.9,509.8 L640.1,510.2 L641.4,510.6 L642.6,511.0 L643.8,511.4 L645.1,511.7 L646.3,512.1 L647.6,512.4 L648.8,512.7 L650.0,513.0 L651.3,513.2 L652.5,513.5 L653.8,513.7 L655.0,513.9 L656.3,514.1 L657.5,514.3 L658.8,514.5 L660.0,514.6 L661.3,514.7 L662.5,514.8 L663.8,514.9 L665.0,514.9 L666.3,515.0 L667.5,515.0 L668.8,515.0 L670.0,514.9 L671.3,514.9 L672.5,514.8 L673.8,514.7 L675.0,514.6 L676.3,514.4 L677.5,514.3 L678.8,514.1 L680.0,513.9 L681.2,513.6 L682.5,513.4 L683.7,513.1 L685.0,512.9 L686.2,512.6 L687.4,512.2 L688.7,511.9 L689.9,511.6 L691.1,511.2 L692.3,510.8 L693.6,510.4 L694.8,510.0 L696.0,509.5 L697.2,509.1 L698.4,508.6 L699.6,508.2 L700.8,507.7 L702.0,507.2 L703.2,506.6 L704.4,506.1 L705.6,505.6 L706.8,505.0 L708.0,504.4 L709.1,503.9 L710.3,503.3 L711.5,502.7 L712.6,502.1 L713.8,501.4 L715.0,500.8 L716.1,500.2 L717.2,499.5 L718.4,498.8 L719.5,498.2 L720.7,497.5 L721.8,496.8 L722.9,496.1 L724.0,495.4 L725.1,494.7 L726.2,494.0 L727.3,493.3 L728.4,492.6 L729.5,491.8 L730.6,491.1 L731.7,490.3 L732.7,489.6 L733.8,488.8 L734.9,488.1 L735.9,487.3 L736.9,486.5 L738.0,485.8 L739.0,485.0 L740.1,484.2 L741.1,483.4 L742.1,482.6 L743.1,481.8 L744.1,481.0 L745.1,480.2 L746.1,479.3 L747.1,478.5 L748.1,477.7 L749.1,476.8 L750.0,476.0 L751.0,475.2 L751.9,474.3 L752.9,473.4 L753.9,472.6 L754.8,471.7 L755.7,470.8 L756.7,469.9 L757.6,469.1 L758.5,468.2 L759.4,467.3 L760.3,466.4 L761.2,465.5 L762.1,464.5 L763.0,463.6 L763.9,462.7 L764.8,461.8 L765.7,460.8 L766.5,459.9 L767.4,459.0 L768.3,458.0 L769.1,457.1 L770.0,456.1 L770.8,455.1 L771.7,454.2 L772.5,453.2 L773.3,452.2 L774.1,451.2 L774.9,450.3 L775.8,449.3 L776.6,448.3 L777.4,447.3 L778.1,446.3 L778.9,445.3 L779.7,444.2 L780.5,443.2 L781.3,442.2 L782.0,441.2 L782.8,440.1 L783.5,439.1 L784.3,438.1 L785.0,437.0 L785.8,436.0 L786.5,434.9 L787.2,433.9 L788.0,432.8 L788.7,431.7 L789.4,430.7 L790.1,429.6 L790.8,428.5 L791.5,427.4 L792.2,426.3 L792.9,425.2 L793.5,424.1 L794.2,423.0 L794.9,421.9 L795.5,420.8 L796.2,419.7 L796.9,418.6 L797.5,417.5 L798.2,416.4 L798.8,415.2 L799.4,414.1 L800.1,413.0 L800.7,411.9 L801.3,410.7 L802.0,409.6 L802.6,408.4 L803.2,407.3 L803.8,406.2 L804.4,405.0 L805.0,403.9 L805.6,402.7 L806.2,401.6 L806.8,400.4 L807.4,399.3 L808.0,398.1 L808.6,397.0 L809.2,395.8 L809.8,394.7 L810.4,393.5 L811.0,392.4 L811.6,391.2 L812.2,390.0 L812.7,388.9 L813.3,387.7 L813.9,386.6 L814.4,385.4 L815.0,384.2 L815.6,383.1 L816.1,381.9 L816.7,380.7 L817.2,379.6 L817.7,378.4 L818.3,377.2 L818.8,376.0 L819.3,374.9 L819.9,373.7 L820.4,372.5 L820.9,371.3 L821.4,370.1 L821.9,368.9 L822.4,367.8 L822.9,366.6 L823.4,365.4 L823.9,364.2 L824.3,363.0 L824.8,361.8 L825.3,360.6 L825.7,359.4 L826.2,358.2 L826.6,357.0 L827.1,355.8 L827.5,354.5 L827.9,353.3 L828.4,352.1 L828.8,350.9 L829.2,349.7 L829.6,348.5 L830.0,347.3 L830.5,346.0 L830.9,344.8 L831.3,343.6 L831.7,342.4 L832.0,341.1 L832.4,339.9 L832.8,338.7 L833.2,337.5 L833.6,336.2 L833.9,335.0 L834.3,333.8 L834.7,332.5 L835.0,331.3 L835.4,330.1 L835.7,328.8 L836.1,327.6 L836.4,326.3 L836.8,325.1 L837.1,323.9 L837.5,322.6 L837.8,321.4 L838.1,320.1 L838.5,318.9 L838.8,317.6 L839.1,316.4 L839.5,315.2 L839.8,313.9 L840.1,312.7 L840.4,311.4 L840.7,310.2 L841.0,308.9 L841.3,307.7 L841.7,306.4 L842.0,305.2 L842.3,303.9 L842.6,302.6 L842.8,301.4 L843.1,300.1 L843.4,298.9 L843.7,297.6 L844.0,296.4 L844.3,295.1 L844.6,293.8 L844.9,292.6 L845.1,291.3 L845.4,290.1 L845.7,288.8 L846.0,287.5 L846.2,286.3 L846.5,285.0 L846.8,283.8 L847.0,282.5 L847.3,281.2 L847.6,280.0 L847.8,278.7 L848.1,277.4 L848.3,276.2 L848.6,274.9 L848.8,273.6 L849.1,272.4 L849.3,271.1 L849.6,269.8 L849.8,268.6 L850.1,267.3 L850.3,266.0 L850.6,264.8 L850.8,263.5 L851.0,262.2 L851.3,261.0 L851.5,259.7 L851.8,258.4 L852.0,257.2 L852.2,255.9 L852.5,254.6 L852.7,253.3 L852.9,252.1 L853.1,250.8 L853.4,249.5 L853.6,248.3 L853.8,247.0 L854.0,245.7 L854.3,244.5 L854.5,243.2 L854.7,241.9 L854.9,240.6 L855.2,239.4 L855.4,238.1 L855.6,236.8 L855.8,235.6 L856.0,234.3 L856.2,233.0 L856.4,231.7 L856.7,230.5 L856.9,229.2 L857.1,227.9 L857.3,226.7 L857.5,225.4 L857.7,224.1 L857.9,222.8 L858.1,221.6 L858.3,220.3 L858.5,219.0 L858.7,217.7 L858.9,216.5 L859.1,215.2 L859.3,213.9 L859.5,212.6 L859.7,211.4 L859.9,210.1 L860.1,208.8 L860.3,207.5 L860.5,206.3 L860.7,205.0 L860.8,203.7 L861.0,202.4 L861.2,201.2 L861.4,199.9 L861.6,198.6 L861.8,197.3 L862.0,196.1 L862.1,194.8 L862.3,193.5 L862.5,192.2 L862.7,191.0 L862.9,189.7 L863.0,188.4 L863.2,187.1 L863.4,185.9 L863.6,184.6 L863.7,183.3 L863.9,182.0 L864.1,180.7 L864.3,179.5 L864.4,178.2 L864.6,176.9 L864.8,175.6 L864.9,174.4 L865.1,173.1 L865.3,171.8 L865.4,170.5 L865.6,169.2 L865.8,168.0 L865.9,166.7 L866.1,165.4 L866.2,164.1 L866.4,162.8 L866.6,161.6 L866.7,160.3 L866.9,159.0 L867.0,157.7 L867.2,156.5 L867.3,155.2 L867.5,153.9 L867.6,152.6 L867.8,151.3 L867.9,150.1 L868.1,148.8 L868.2,147.5 L868.4,146.2 L868.5,144.9 L868.7,143.7 L868.8,142.4 L869.0,141.1 L869.1,139.8 L869.3,138.5 L869.4,137.2 L869.5,136.0 L869.7,134.7 L869.8,133.4 L870.0,132.1 L870.1,130.8 L870.2,129.6 L870.4,128.3 L870.5,127.0 L870.6,125.7 L870.8,124.4 L870.9,123.1 L871.0,121.9 L871.2,120.6 L871.3,119.3 L871.4,118.0 L871.5,116.7 L871.7,115.5 L871.8,114.2 L871.9,112.9 L872.1,111.6 L872.2,110.3 L872.3,109.0 L872.4,107.8 L872.5,106.5 L872.7,105.2 L872.8,103.9 L872.9,102.6 L873.0,101.3 L873.1,100.1 L873.3,98.8 L873.4,97.5 L873.5,96.2 L873.6,94.9 L873.7,93.6 L873.8,92.3 L873.9,91.1 L874.1,89.8 L874.2,88.5 L874.3,87.2 L874.4,85.9 L874.5,84.6 L874.6,83.4 L874.7,82.1 L874.8,80.8 L874.9,79.5 L875.0,78.2 L875.1,76.9 L875.2,75.6 L875.4,74.4 L875.5,73.1 L875.6,71.8 L875.7,70.5 L875.8,69.2 L875.9,67.9 L876.0,66.6 L876.1,65.4 L876.2,64.1 L876.3,62.8 L876.4,61.5 L876.4,60.2 L876.5,58.9 L876.6,57.6 L876.7,56.3 L876.8,55.1 L876.9,53.8 L877.0,52.5 L877.1,51.2 L877.2,49.9 L877.3,48.6 L877.4,47.3 L877.5,46.1 L877.6,44.8 L877.6,43.5 L877.7,42.2 L877.8,40.9 L877.9,39.6 L878.0,38.3 L878.1,37.0 L878.2,35.8 L878.2,34.5 L878.3,33.2 L878.4,31.9 L878.5,30.6 L878.6,29.3 L878.6,28.0 L878.7,26.7 L878.8,25.4 L878.9,24.2 L879.0,22.9 L879.0,21.6 L879.1,20.3 L879.2,19.0 L879.3,17.7 L879.3,16.4 L879.4,15.1 L879.5,13.8 L879.6,12.6 L879.6,11.3 L879.7,10.0" stroke="#F87C7C" stroke-width="3.9" stroke-dasharray="17.530 17.530" stroke-linecap="square" stroke-dashoffset="-1"/>
</g>
<g stroke="#000" stroke-width="1.9" fill="none">
<path d="M91.5,0.8 H968.0 V542.5 H91.5 Z"/>
</g>
<path d="M108.70,542.5 v-10.4 M108.70,0.8 v10.4 M142.36,542.5 v-6.3 M142.36,0.8 v6.3 M176.02,542.5 v-6.3 M176.02,0.8 v6.3 M209.68,542.5 v-6.3 M209.68,0.8 v6.3 M243.34,542.5 v-6.3 M243.34,0.8 v6.3 M277.00,542.5 v-10.4 M277.00,0.8 v10.4 M310.66,542.5 v-6.3 M310.66,0.8 v6.3 M344.32,542.5 v-6.3 M344.32,0.8 v6.3 M377.98,542.5 v-6.3 M377.98,0.8 v6.3 M411.64,542.5 v-6.3 M411.64,0.8 v6.3 M445.30,542.5 v-10.4 M445.30,0.8 v10.4 M478.96,542.5 v-6.3 M478.96,0.8 v6.3 M512.62,542.5 v-6.3 M512.62,0.8 v6.3 M546.28,542.5 v-6.3 M546.28,0.8 v6.3 M579.94,542.5 v-6.3 M579.94,0.8 v6.3 M613.60,542.5 v-10.4 M613.60,0.8 v10.4 M647.26,542.5 v-6.3 M647.26,0.8 v6.3 M680.92,542.5 v-6.3 M680.92,0.8 v6.3 M714.58,542.5 v-6.3 M714.58,0.8 v6.3 M748.24,542.5 v-6.3 M748.24,0.8 v6.3 M781.90,542.5 v-10.4 M781.90,0.8 v10.4 M815.56,542.5 v-6.3 M815.56,0.8 v6.3 M849.22,542.5 v-6.3 M849.22,0.8 v6.3 M882.88,542.5 v-6.3 M882.88,0.8 v6.3 M916.54,542.5 v-6.3 M916.54,0.8 v6.3 M950.20,542.5 v-10.4 M950.20,0.8 v10.4 M91.5,527.60 h6.4 M968.0,527.60 h-6.4 M91.5,512.50 h10.8 M968.0,512.50 h-10.8 M91.5,497.40 h6.4 M968.0,497.40 h-6.4 M91.5,482.30 h6.4 M968.0,482.30 h-6.4 M91.5,467.20 h6.4 M968.0,467.20 h-6.4 M91.5,452.10 h6.4 M968.0,452.10 h-6.4 M91.5,437.00 h10.8 M968.0,437.00 h-10.8 M91.5,421.90 h6.4 M968.0,421.90 h-6.4 M91.5,406.80 h6.4 M968.0,406.80 h-6.4 M91.5,391.70 h6.4 M968.0,391.70 h-6.4 M91.5,376.60 h6.4 M968.0,376.60 h-6.4 M91.5,361.50 h10.8 M968.0,361.50 h-10.8 M91.5,346.40 h6.4 M968.0,346.40 h-6.4 M91.5,331.30 h6.4 M968.0,331.30 h-6.4 M91.5,316.20 h6.4 M968.0,316.20 h-6.4 M91.5,301.10 h6.4 M968.0,301.10 h-6.4 M91.5,286.00 h10.8 M968.0,286.00 h-10.8 M91.5,270.90 h6.4 M968.0,270.90 h-6.4 M91.5,255.80 h6.4 M968.0,255.80 h-6.4 M91.5,240.70 h6.4 M968.0,240.70 h-6.4 M91.5,225.60 h6.4 M968.0,225.60 h-6.4 M91.5,210.50 h10.8 M968.0,210.50 h-10.8 M91.5,195.40 h6.4 M968.0,195.40 h-6.4 M91.5,180.30 h6.4 M968.0,180.30 h-6.4 M91.5,165.20 h6.4 M968.0,165.20 h-6.4 M91.5,150.10 h6.4 M968.0,150.10 h-6.4 M91.5,135.00 h10.8 M968.0,135.00 h-10.8 M91.5,119.90 h6.4 M968.0,119.90 h-6.4 M91.5,104.80 h6.4 M968.0,104.80 h-6.4 M91.5,89.70 h6.4 M968.0,89.70 h-6.4 M91.5,74.60 h6.4 M968.0,74.60 h-6.4 M91.5,59.50 h10.8 M968.0,59.50 h-10.8 M91.5,44.40 h6.4 M968.0,44.40 h-6.4 M91.5,29.30 h6.4 M968.0,29.30 h-6.4 M91.5,14.20 h6.4 M968.0,14.20 h-6.4" stroke="#000" stroke-width="1.5" fill="none"/>
<rect x="432.3" y="10" width="206.5" height="205.6" fill="#fff" stroke="#000" stroke-width="1.4"/>
<path d="M440.8,38.85 H462.9" stroke="#000" stroke-width="1.7" stroke-dasharray="4.5 1.3"/>
<path d="M440.8,88.20 H463.2" stroke="#57BF43" stroke-width="1.7"/>
<path d="M440.8,137.55 H462.1" stroke="#8FDDD6" stroke-width="1.7" stroke-dasharray="3.5 0.8"/>
<path d="M440.8,186.90 H462.9" stroke="#F87C7C" stroke-width="1.7" stroke-dasharray="4.5 1.3"/>
<g font-family="'Liberation Sans',sans-serif" font-size="26" fill="#000" stroke="#000" stroke-width="0.5">
<text x="492.4" y="45.2">Pr = 0.80</text>
<text x="492.4" y="94.5">Pr = 0.90</text>
<text x="492.4" y="143.8">Pr = 1.00</text>
<text x="492.4" y="193.1">Pr = 1.10</text>
</g>
<g font-family="'Liberation Sans',sans-serif" font-size="26.5" fill="#000" stroke="#000" stroke-width="0.5">
<text x="106.7" y="572.6" text-anchor="middle" font-size="27">0</text>
<text x="275.0" y="572.6" text-anchor="middle" font-size="27">1</text>
<text x="443.3" y="572.6" text-anchor="middle" font-size="27">2</text>
<text x="611.6" y="572.6" text-anchor="middle" font-size="27">3</text>
<text x="779.9" y="572.6" text-anchor="middle" font-size="27">4</text>
<text x="948.2" y="572.6" text-anchor="middle" font-size="27">5</text>
<text x="81.0" y="519.6" text-anchor="end">0</text>
<text x="81.0" y="444.1" text-anchor="end">5</text>
<text x="81.0" y="368.6" text-anchor="end">10</text>
<text x="81.0" y="293.1" text-anchor="end">15</text>
<text x="81.0" y="217.6" text-anchor="end">20</text>
<text x="81.0" y="142.1" text-anchor="end">25</text>
<text x="81.0" y="66.6" text-anchor="end">30</text>
</g>
<text x="527.7" y="621.8" text-anchor="middle" font-family="'DejaVu Sans','Liberation Sans',sans-serif" font-style="italic" font-size="25.3">ζ</text>
<g transform="translate(19.1,0) rotate(-90)" text-anchor="middle" stroke="#000" stroke-width="0.5"><text x="-298.0" y="0" font-size="26" font-family="'Liberation Sans',sans-serif" font-style="italic">N</text><text x="-282.1" y="5.2" font-size="19.5" font-family="'Liberation Sans',sans-serif" font-style="italic">G</text><text x="-269.1" y="0" font-size="26" font-family="'Liberation Sans',sans-serif" font-style="normal">(</text><text x="-256.4" y="0.3" font-size="25.3" font-family="'DejaVu Sans','Liberation Sans',sans-serif" font-style="italic" stroke-width="0">ζ</text><text x="-243.9" y="0" font-size="26" font-family="'Liberation Sans',sans-serif" font-style="normal">)</text></g>
</svg>
</body></html>
